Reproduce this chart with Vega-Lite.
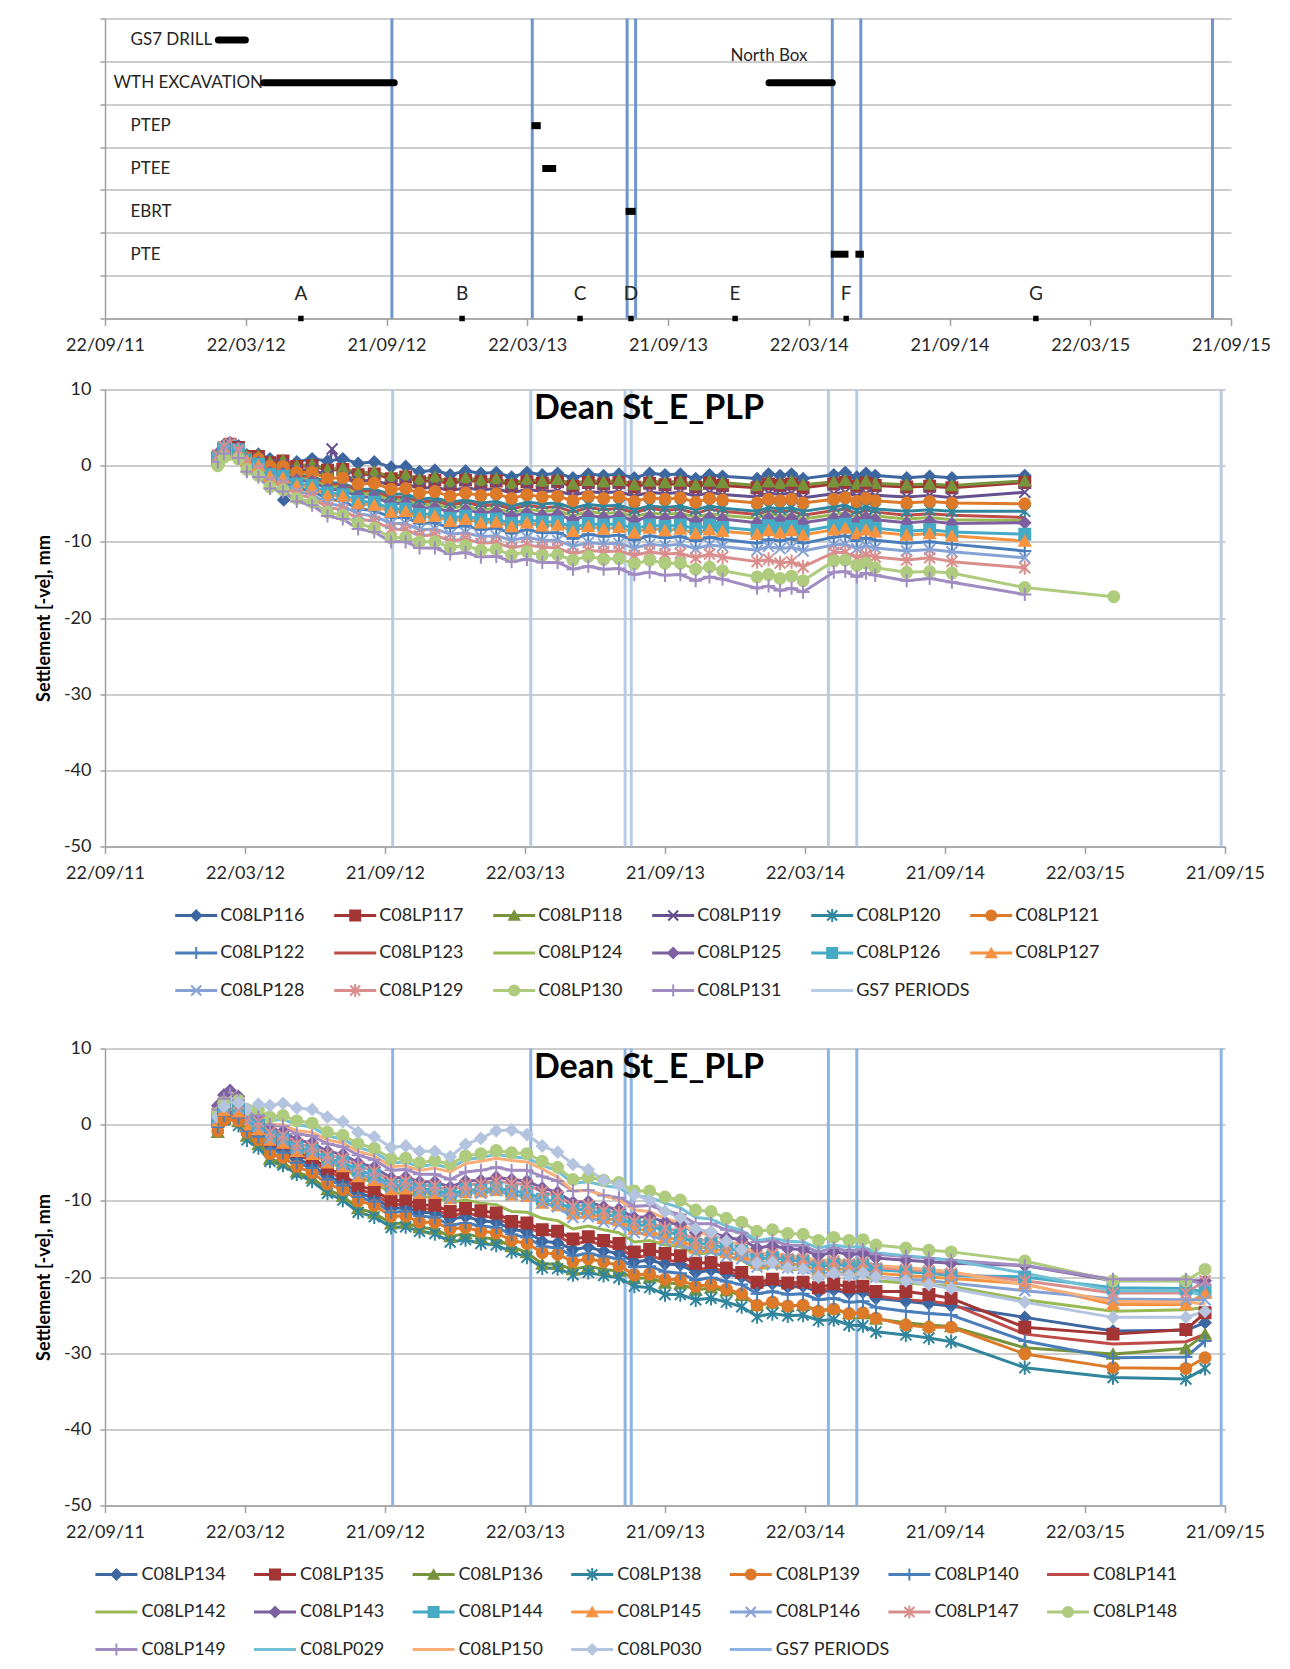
{
"$schema": "https://vega.github.io/schema/vega-lite/v6.json",
"padding": {"left": 35, "top": 9.5, "right": 10, "bottom": 5},
"background": "white",
"config": {
  "font": "Lato",
  "view": {"stroke": null},
  "axis": {"labelFont": "Lato", "labelFontSize": 18, "labelColor": "#262626", "domainColor": "#A0A0A0", "domainWidth": 1.5, "tickColor": "#A0A0A0", "tickWidth": 1.5, "gridColor": "#BDBDBD", "gridWidth": 1.5, "titleFont": "Lato"},
  "title": {"font": "Lato"}
},
"spacing": 71,
"bounds": "flush",
"resolve": {"scale": {"color": "independent", "fill": "independent", "stroke": "independent", "shape": "independent", "x": "independent", "y": "independent"}},
"datasets": {
  "tasks": [
    {"task": "GS7 DRILL", "start": 147, "end": 182},
    {"task": "WTH EXCAVATION", "start": 206, "end": 375},
    {"task": "WTH EXCAVATION", "start": 861, "end": 943, "note": "North Box"},
    {"task": "PTEP", "start": 553, "end": 565},
    {"task": "PTEE", "start": 567, "end": 585},
    {"task": "EBRT", "start": 675, "end": 688},
    {"task": "PTE", "start": 941, "end": 964},
    {"task": "PTE", "start": 973, "end": 984}
  ],
  "milestones": [
    {"name": "A", "start": 254, "task": "MILESTONES"},
    {"name": "B", "start": 463, "task": "MILESTONES"},
    {"name": "C", "start": 616, "task": "MILESTONES"},
    {"name": "D", "start": 682, "task": "MILESTONES"},
    {"name": "E", "start": 817, "task": "MILESTONES"},
    {"name": "F", "start": 961, "task": "MILESTONES"},
    {"name": "G", "start": 1207, "task": "MILESTONES"}
  ],
  "gs7Top": [{"start": 372}, {"start": 554}, {"start": 677}, {"start": 688}, {"start": 943}, {"start": 980}, {"start": 1436}],
  "gs7": [{"day": 375}, {"day": 555}, {"day": 678}, {"day": 686}, {"day": 943}, {"day": 980}, {"day": 1455}],
  "legendMid": [{"id":"C08LP116"},{"id":"C08LP117"},{"id":"C08LP118"},{"id":"C08LP119"},{"id":"C08LP120"},{"id":"C08LP121"},{"id":"C08LP122"},{"id":"C08LP123"},{"id":"C08LP124"},{"id":"C08LP125"},{"id":"C08LP126"},{"id":"C08LP127"},{"id":"C08LP128"},{"id":"C08LP129"},{"id":"C08LP130"},{"id":"C08LP131"},{"id":"GS7 PERIODS"}],
  "legendBot": [{"id":"C08LP134"},{"id":"C08LP135"},{"id":"C08LP136"},{"id":"C08LP138"},{"id":"C08LP139"},{"id":"C08LP140"},{"id":"C08LP141"},{"id":"C08LP142"},{"id":"C08LP143"},{"id":"C08LP144"},{"id":"C08LP145"},{"id":"C08LP146"},{"id":"C08LP147"},{"id":"C08LP148"},{"id":"C08LP149"},{"id":"C08LP029"},{"id":"C08LP150"},{"id":"C08LP030"},{"id":"GS7 PERIODS"}],
  "mid": [
{"id":"C08LP116","day":147,"mm":1.5},{"id":"C08LP116","day":163,"mm":3.0},{"id":"C08LP116","day":185,"mm":1.4},{"id":"C08LP116","day":215,"mm":0.9},{"id":"C08LP116","day":233,"mm":-4.5},{"id":"C08LP116","day":250,"mm":0.5},{"id":"C08LP116","day":290,"mm":0.6},{"id":"C08LP116","day":330,"mm":0.3},{"id":"C08LP116","day":373,"mm":-0.2},{"id":"C08LP116","day":410,"mm":-0.8},{"id":"C08LP116","day":450,"mm":-1.2},{"id":"C08LP116","day":490,"mm":-1.0},{"id":"C08LP116","day":530,"mm":-1.5},{"id":"C08LP116","day":570,"mm":-1.2},{"id":"C08LP116","day":610,"mm":-1.6},{"id":"C08LP116","day":650,"mm":-1.3},{"id":"C08LP116","day":690,"mm":-1.6},{"id":"C08LP116","day":730,"mm":-1.2},{"id":"C08LP116","day":770,"mm":-1.7},{"id":"C08LP116","day":805,"mm":-1.4},{"id":"C08LP116","day":850,"mm":-1.7},{"id":"C08LP116","day":880,"mm":-1.3},{"id":"C08LP116","day":910,"mm":-1.7},{"id":"C08LP116","day":950,"mm":-1.2},{"id":"C08LP116","day":980,"mm":-1.5},{"id":"C08LP116","day":1004,"mm":-1.3},{"id":"C08LP116","day":1045,"mm":-1.6},{"id":"C08LP116","day":1075,"mm":-1.4},{"id":"C08LP116","day":1104,"mm":-1.6},{"id":"C08LP116","day":1199,"mm":-1.3},
{"id":"C08LP117","day":147,"mm":1.0},{"id":"C08LP117","day":163,"mm":2.8},{"id":"C08LP117","day":185,"mm":1.2},{"id":"C08LP117","day":215,"mm":0.4},{"id":"C08LP117","day":250,"mm":-0.1},{"id":"C08LP117","day":290,"mm":-0.6},{"id":"C08LP117","day":330,"mm":-1.2},{"id":"C08LP117","day":373,"mm":-1.7},{"id":"C08LP117","day":410,"mm":-2.1},{"id":"C08LP117","day":450,"mm":-2.4},{"id":"C08LP117","day":490,"mm":-2.1},{"id":"C08LP117","day":530,"mm":-2.6},{"id":"C08LP117","day":570,"mm":-2.3},{"id":"C08LP117","day":610,"mm":-2.7},{"id":"C08LP117","day":650,"mm":-2.4},{"id":"C08LP117","day":690,"mm":-2.8},{"id":"C08LP117","day":730,"mm":-2.5},{"id":"C08LP117","day":770,"mm":-2.8},{"id":"C08LP117","day":805,"mm":-2.6},{"id":"C08LP117","day":850,"mm":-2.9},{"id":"C08LP117","day":880,"mm":-2.6},{"id":"C08LP117","day":910,"mm":-2.9},{"id":"C08LP117","day":950,"mm":-2.4},{"id":"C08LP117","day":980,"mm":-2.7},{"id":"C08LP117","day":1004,"mm":-2.6},{"id":"C08LP117","day":1045,"mm":-2.8},{"id":"C08LP117","day":1075,"mm":-2.7},{"id":"C08LP117","day":1104,"mm":-2.9},{"id":"C08LP117","day":1199,"mm":-2.2},
{"id":"C08LP118","day":147,"mm":0.8},{"id":"C08LP118","day":163,"mm":2.5},{"id":"C08LP118","day":185,"mm":1.3},{"id":"C08LP118","day":215,"mm":0.5},{"id":"C08LP118","day":250,"mm":0.0},{"id":"C08LP118","day":290,"mm":-0.5},{"id":"C08LP118","day":330,"mm":-1.0},{"id":"C08LP118","day":373,"mm":-1.4},{"id":"C08LP118","day":410,"mm":-1.8},{"id":"C08LP118","day":450,"mm":-2.1},{"id":"C08LP118","day":490,"mm":-1.9},{"id":"C08LP118","day":530,"mm":-2.3},{"id":"C08LP118","day":570,"mm":-2.0},{"id":"C08LP118","day":610,"mm":-2.4},{"id":"C08LP118","day":650,"mm":-2.1},{"id":"C08LP118","day":690,"mm":-2.5},{"id":"C08LP118","day":730,"mm":-2.2},{"id":"C08LP118","day":770,"mm":-2.5},{"id":"C08LP118","day":805,"mm":-2.2},{"id":"C08LP118","day":850,"mm":-2.6},{"id":"C08LP118","day":880,"mm":-2.3},{"id":"C08LP118","day":910,"mm":-2.5},{"id":"C08LP118","day":950,"mm":-2.1},{"id":"C08LP118","day":980,"mm":-2.4},{"id":"C08LP118","day":1004,"mm":-2.3},{"id":"C08LP118","day":1045,"mm":-2.5},{"id":"C08LP118","day":1075,"mm":-2.4},{"id":"C08LP118","day":1104,"mm":-2.6},{"id":"C08LP118","day":1199,"mm":-2.0},
{"id":"C08LP119","day":147,"mm":1.2},{"id":"C08LP119","day":163,"mm":2.6},{"id":"C08LP119","day":185,"mm":1.1},{"id":"C08LP119","day":215,"mm":0.1},{"id":"C08LP119","day":250,"mm":-0.6},{"id":"C08LP119","day":290,"mm":-1.3},{"id":"C08LP119","day":296,"mm":2.2},{"id":"C08LP119","day":330,"mm":-2.0},{"id":"C08LP119","day":373,"mm":-2.6},{"id":"C08LP119","day":410,"mm":-3.0},{"id":"C08LP119","day":450,"mm":-3.3},{"id":"C08LP119","day":490,"mm":-3.2},{"id":"C08LP119","day":530,"mm":-3.6},{"id":"C08LP119","day":570,"mm":-3.4},{"id":"C08LP119","day":610,"mm":-3.9},{"id":"C08LP119","day":650,"mm":-3.6},{"id":"C08LP119","day":690,"mm":-4.0},{"id":"C08LP119","day":730,"mm":-3.7},{"id":"C08LP119","day":770,"mm":-4.0},{"id":"C08LP119","day":805,"mm":-3.8},{"id":"C08LP119","day":850,"mm":-4.1},{"id":"C08LP119","day":880,"mm":-3.8},{"id":"C08LP119","day":910,"mm":-4.2},{"id":"C08LP119","day":950,"mm":-3.7},{"id":"C08LP119","day":980,"mm":-4.0},{"id":"C08LP119","day":1004,"mm":-3.9},{"id":"C08LP119","day":1045,"mm":-4.1},{"id":"C08LP119","day":1075,"mm":-3.9},{"id":"C08LP119","day":1104,"mm":-4.2},{"id":"C08LP119","day":1199,"mm":-3.5},
{"id":"C08LP120","day":147,"mm":0.9},{"id":"C08LP120","day":163,"mm":2.4},{"id":"C08LP120","day":185,"mm":1.0},{"id":"C08LP120","day":215,"mm":-0.5},{"id":"C08LP120","day":250,"mm":-1.3},{"id":"C08LP120","day":290,"mm":-2.2},{"id":"C08LP120","day":330,"mm":-3.1},{"id":"C08LP120","day":373,"mm":-3.8},{"id":"C08LP120","day":410,"mm":-4.4},{"id":"C08LP120","day":450,"mm":-4.8},{"id":"C08LP120","day":490,"mm":-4.9},{"id":"C08LP120","day":530,"mm":-5.3},{"id":"C08LP120","day":570,"mm":-5.0},{"id":"C08LP120","day":610,"mm":-5.6},{"id":"C08LP120","day":650,"mm":-5.3},{"id":"C08LP120","day":690,"mm":-5.8},{"id":"C08LP120","day":730,"mm":-5.5},{"id":"C08LP120","day":770,"mm":-5.8},{"id":"C08LP120","day":805,"mm":-5.6},{"id":"C08LP120","day":850,"mm":-6.0},{"id":"C08LP120","day":880,"mm":-5.7},{"id":"C08LP120","day":910,"mm":-6.0},{"id":"C08LP120","day":950,"mm":-5.4},{"id":"C08LP120","day":980,"mm":-5.8},{"id":"C08LP120","day":1004,"mm":-5.7},{"id":"C08LP120","day":1045,"mm":-6.0},{"id":"C08LP120","day":1075,"mm":-5.8},{"id":"C08LP120","day":1104,"mm":-6.0},{"id":"C08LP120","day":1199,"mm":-6.0},
{"id":"C08LP121","day":147,"mm":0.5},{"id":"C08LP121","day":163,"mm":2.2},{"id":"C08LP121","day":185,"mm":1.0},{"id":"C08LP121","day":215,"mm":-0.1},{"id":"C08LP121","day":250,"mm":-0.9},{"id":"C08LP121","day":290,"mm":-1.7},{"id":"C08LP121","day":330,"mm":-2.4},{"id":"C08LP121","day":373,"mm":-3.1},{"id":"C08LP121","day":410,"mm":-3.6},{"id":"C08LP121","day":450,"mm":-4.0},{"id":"C08LP121","day":490,"mm":-3.9},{"id":"C08LP121","day":530,"mm":-4.3},{"id":"C08LP121","day":570,"mm":-4.1},{"id":"C08LP121","day":610,"mm":-4.6},{"id":"C08LP121","day":650,"mm":-4.3},{"id":"C08LP121","day":690,"mm":-4.7},{"id":"C08LP121","day":730,"mm":-4.4},{"id":"C08LP121","day":770,"mm":-4.8},{"id":"C08LP121","day":805,"mm":-4.5},{"id":"C08LP121","day":850,"mm":-4.9},{"id":"C08LP121","day":880,"mm":-4.6},{"id":"C08LP121","day":910,"mm":-4.9},{"id":"C08LP121","day":950,"mm":-4.4},{"id":"C08LP121","day":980,"mm":-4.7},{"id":"C08LP121","day":1004,"mm":-4.6},{"id":"C08LP121","day":1045,"mm":-4.9},{"id":"C08LP121","day":1075,"mm":-4.7},{"id":"C08LP121","day":1104,"mm":-4.9},{"id":"C08LP121","day":1199,"mm":-5.0},
{"id":"C08LP122","day":147,"mm":1.0},{"id":"C08LP122","day":163,"mm":2.5},{"id":"C08LP122","day":185,"mm":0.5},{"id":"C08LP122","day":215,"mm":-1.7},{"id":"C08LP122","day":250,"mm":-3.0},{"id":"C08LP122","day":290,"mm":-4.4},{"id":"C08LP122","day":330,"mm":-5.7},{"id":"C08LP122","day":373,"mm":-6.8},{"id":"C08LP122","day":410,"mm":-7.6},{"id":"C08LP122","day":450,"mm":-8.2},{"id":"C08LP122","day":490,"mm":-8.4},{"id":"C08LP122","day":530,"mm":-8.9},{"id":"C08LP122","day":570,"mm":-8.8},{"id":"C08LP122","day":610,"mm":-9.6},{"id":"C08LP122","day":650,"mm":-9.3},{"id":"C08LP122","day":690,"mm":-9.8},{"id":"C08LP122","day":730,"mm":-9.5},{"id":"C08LP122","day":770,"mm":-9.9},{"id":"C08LP122","day":805,"mm":-9.7},{"id":"C08LP122","day":850,"mm":-10.2},{"id":"C08LP122","day":880,"mm":-9.9},{"id":"C08LP122","day":910,"mm":-10.2},{"id":"C08LP122","day":950,"mm":-9.4},{"id":"C08LP122","day":980,"mm":-9.9},{"id":"C08LP122","day":1004,"mm":-9.8},{"id":"C08LP122","day":1045,"mm":-10.2},{"id":"C08LP122","day":1075,"mm":-10.0},{"id":"C08LP122","day":1104,"mm":-10.3},{"id":"C08LP122","day":1199,"mm":-11.2},
{"id":"C08LP123","day":147,"mm":1.3},{"id":"C08LP123","day":163,"mm":2.7},{"id":"C08LP123","day":185,"mm":0.9},{"id":"C08LP123","day":215,"mm":-0.6},{"id":"C08LP123","day":250,"mm":-1.5},{"id":"C08LP123","day":290,"mm":-2.5},{"id":"C08LP123","day":330,"mm":-3.4},{"id":"C08LP123","day":373,"mm":-4.2},{"id":"C08LP123","day":410,"mm":-4.8},{"id":"C08LP123","day":450,"mm":-5.2},{"id":"C08LP123","day":490,"mm":-5.3},{"id":"C08LP123","day":530,"mm":-5.7},{"id":"C08LP123","day":570,"mm":-5.5},{"id":"C08LP123","day":610,"mm":-6.1},{"id":"C08LP123","day":650,"mm":-5.8},{"id":"C08LP123","day":690,"mm":-6.2},{"id":"C08LP123","day":730,"mm":-5.9},{"id":"C08LP123","day":770,"mm":-6.3},{"id":"C08LP123","day":805,"mm":-6.0},{"id":"C08LP123","day":850,"mm":-6.4},{"id":"C08LP123","day":880,"mm":-6.1},{"id":"C08LP123","day":910,"mm":-6.5},{"id":"C08LP123","day":950,"mm":-5.9},{"id":"C08LP123","day":980,"mm":-6.3},{"id":"C08LP123","day":1004,"mm":-6.1},{"id":"C08LP123","day":1045,"mm":-6.5},{"id":"C08LP123","day":1075,"mm":-6.3},{"id":"C08LP123","day":1104,"mm":-6.5},{"id":"C08LP123","day":1199,"mm":-6.8},
{"id":"C08LP124","day":147,"mm":0.7},{"id":"C08LP124","day":163,"mm":2.3},{"id":"C08LP124","day":185,"mm":0.8},{"id":"C08LP124","day":215,"mm":-0.8},{"id":"C08LP124","day":250,"mm":-1.7},{"id":"C08LP124","day":290,"mm":-2.8},{"id":"C08LP124","day":330,"mm":-3.7},{"id":"C08LP124","day":373,"mm":-4.6},{"id":"C08LP124","day":410,"mm":-5.2},{"id":"C08LP124","day":450,"mm":-5.6},{"id":"C08LP124","day":490,"mm":-5.8},{"id":"C08LP124","day":530,"mm":-6.2},{"id":"C08LP124","day":570,"mm":-6.0},{"id":"C08LP124","day":610,"mm":-6.6},{"id":"C08LP124","day":650,"mm":-6.3},{"id":"C08LP124","day":690,"mm":-6.7},{"id":"C08LP124","day":730,"mm":-6.4},{"id":"C08LP124","day":770,"mm":-6.8},{"id":"C08LP124","day":805,"mm":-6.5},{"id":"C08LP124","day":850,"mm":-6.9},{"id":"C08LP124","day":880,"mm":-6.6},{"id":"C08LP124","day":910,"mm":-7.0},{"id":"C08LP124","day":950,"mm":-6.4},{"id":"C08LP124","day":980,"mm":-6.8},{"id":"C08LP124","day":1004,"mm":-6.6},{"id":"C08LP124","day":1045,"mm":-7.0},{"id":"C08LP124","day":1075,"mm":-6.8},{"id":"C08LP124","day":1104,"mm":-7.1},{"id":"C08LP124","day":1199,"mm":-7.2},
{"id":"C08LP125","day":147,"mm":1.6},{"id":"C08LP125","day":163,"mm":3.0},{"id":"C08LP125","day":185,"mm":0.8},{"id":"C08LP125","day":215,"mm":-0.9},{"id":"C08LP125","day":250,"mm":-1.9},{"id":"C08LP125","day":290,"mm":-3.1},{"id":"C08LP125","day":330,"mm":-4.1},{"id":"C08LP125","day":373,"mm":-5.0},{"id":"C08LP125","day":410,"mm":-5.6},{"id":"C08LP125","day":450,"mm":-6.1},{"id":"C08LP125","day":490,"mm":-6.2},{"id":"C08LP125","day":530,"mm":-6.6},{"id":"C08LP125","day":570,"mm":-6.5},{"id":"C08LP125","day":610,"mm":-7.1},{"id":"C08LP125","day":650,"mm":-6.8},{"id":"C08LP125","day":690,"mm":-7.2},{"id":"C08LP125","day":730,"mm":-6.9},{"id":"C08LP125","day":770,"mm":-7.3},{"id":"C08LP125","day":805,"mm":-7.0},{"id":"C08LP125","day":850,"mm":-7.5},{"id":"C08LP125","day":880,"mm":-7.1},{"id":"C08LP125","day":910,"mm":-7.5},{"id":"C08LP125","day":950,"mm":-6.9},{"id":"C08LP125","day":980,"mm":-7.3},{"id":"C08LP125","day":1004,"mm":-7.1},{"id":"C08LP125","day":1045,"mm":-7.5},{"id":"C08LP125","day":1075,"mm":-7.3},{"id":"C08LP125","day":1104,"mm":-7.6},{"id":"C08LP125","day":1199,"mm":-7.5},
{"id":"C08LP126","day":147,"mm":1.1},{"id":"C08LP126","day":163,"mm":2.6},{"id":"C08LP126","day":185,"mm":0.7},{"id":"C08LP126","day":215,"mm":-1.2},{"id":"C08LP126","day":250,"mm":-2.4},{"id":"C08LP126","day":290,"mm":-3.6},{"id":"C08LP126","day":330,"mm":-4.7},{"id":"C08LP126","day":373,"mm":-5.7},{"id":"C08LP126","day":410,"mm":-6.4},{"id":"C08LP126","day":450,"mm":-6.9},{"id":"C08LP126","day":490,"mm":-7.1},{"id":"C08LP126","day":530,"mm":-7.6},{"id":"C08LP126","day":570,"mm":-7.4},{"id":"C08LP126","day":610,"mm":-8.1},{"id":"C08LP126","day":650,"mm":-7.8},{"id":"C08LP126","day":690,"mm":-8.3},{"id":"C08LP126","day":730,"mm":-8.0},{"id":"C08LP126","day":770,"mm":-8.3},{"id":"C08LP126","day":805,"mm":-8.1},{"id":"C08LP126","day":850,"mm":-8.5},{"id":"C08LP126","day":880,"mm":-8.2},{"id":"C08LP126","day":910,"mm":-8.6},{"id":"C08LP126","day":950,"mm":-7.9},{"id":"C08LP126","day":980,"mm":-8.3},{"id":"C08LP126","day":1004,"mm":-8.2},{"id":"C08LP126","day":1045,"mm":-8.6},{"id":"C08LP126","day":1075,"mm":-8.4},{"id":"C08LP126","day":1104,"mm":-8.7},{"id":"C08LP126","day":1199,"mm":-9.0},
{"id":"C08LP127","day":147,"mm":0.6},{"id":"C08LP127","day":163,"mm":2.2},{"id":"C08LP127","day":185,"mm":0.6},{"id":"C08LP127","day":215,"mm":-1.4},{"id":"C08LP127","day":250,"mm":-2.6},{"id":"C08LP127","day":290,"mm":-3.9},{"id":"C08LP127","day":330,"mm":-5.0},{"id":"C08LP127","day":373,"mm":-6.1},{"id":"C08LP127","day":410,"mm":-6.8},{"id":"C08LP127","day":450,"mm":-7.3},{"id":"C08LP127","day":490,"mm":-7.5},{"id":"C08LP127","day":530,"mm":-8.0},{"id":"C08LP127","day":570,"mm":-7.9},{"id":"C08LP127","day":610,"mm":-8.6},{"id":"C08LP127","day":650,"mm":-8.3},{"id":"C08LP127","day":690,"mm":-8.8},{"id":"C08LP127","day":730,"mm":-8.5},{"id":"C08LP127","day":770,"mm":-8.9},{"id":"C08LP127","day":805,"mm":-8.6},{"id":"C08LP127","day":850,"mm":-9.0},{"id":"C08LP127","day":880,"mm":-8.8},{"id":"C08LP127","day":910,"mm":-9.1},{"id":"C08LP127","day":950,"mm":-8.4},{"id":"C08LP127","day":980,"mm":-8.9},{"id":"C08LP127","day":1004,"mm":-8.7},{"id":"C08LP127","day":1045,"mm":-9.1},{"id":"C08LP127","day":1075,"mm":-8.9},{"id":"C08LP127","day":1104,"mm":-9.2},{"id":"C08LP127","day":1199,"mm":-9.9},
{"id":"C08LP128","day":147,"mm":0.9},{"id":"C08LP128","day":163,"mm":2.4},{"id":"C08LP128","day":185,"mm":0.4},{"id":"C08LP128","day":215,"mm":-2.0},{"id":"C08LP128","day":250,"mm":-3.4},{"id":"C08LP128","day":290,"mm":-5.0},{"id":"C08LP128","day":330,"mm":-6.3},{"id":"C08LP128","day":373,"mm":-7.6},{"id":"C08LP128","day":410,"mm":-8.4},{"id":"C08LP128","day":450,"mm":-9.0},{"id":"C08LP128","day":490,"mm":-9.3},{"id":"C08LP128","day":530,"mm":-9.8},{"id":"C08LP128","day":570,"mm":-9.8},{"id":"C08LP128","day":610,"mm":-10.6},{"id":"C08LP128","day":650,"mm":-10.3},{"id":"C08LP128","day":690,"mm":-10.8},{"id":"C08LP128","day":730,"mm":-10.5},{"id":"C08LP128","day":770,"mm":-10.9},{"id":"C08LP128","day":805,"mm":-10.6},{"id":"C08LP128","day":850,"mm":-11.1},{"id":"C08LP128","day":880,"mm":-10.9},{"id":"C08LP128","day":910,"mm":-11.2},{"id":"C08LP128","day":950,"mm":-10.4},{"id":"C08LP128","day":980,"mm":-10.9},{"id":"C08LP128","day":1004,"mm":-10.8},{"id":"C08LP128","day":1045,"mm":-11.2},{"id":"C08LP128","day":1075,"mm":-11.0},{"id":"C08LP128","day":1104,"mm":-11.3},{"id":"C08LP128","day":1199,"mm":-12.1},
{"id":"C08LP129","day":147,"mm":1.4},{"id":"C08LP129","day":163,"mm":2.9},{"id":"C08LP129","day":185,"mm":0.4},{"id":"C08LP129","day":215,"mm":-2.3},{"id":"C08LP129","day":250,"mm":-3.8},{"id":"C08LP129","day":290,"mm":-5.5},{"id":"C08LP129","day":330,"mm":-7.0},{"id":"C08LP129","day":373,"mm":-8.3},{"id":"C08LP129","day":410,"mm":-9.2},{"id":"C08LP129","day":450,"mm":-9.9},{"id":"C08LP129","day":490,"mm":-10.2},{"id":"C08LP129","day":530,"mm":-10.8},{"id":"C08LP129","day":570,"mm":-10.7},{"id":"C08LP129","day":610,"mm":-11.6},{"id":"C08LP129","day":650,"mm":-11.3},{"id":"C08LP129","day":690,"mm":-11.8},{"id":"C08LP129","day":730,"mm":-11.6},{"id":"C08LP129","day":770,"mm":-12.1},{"id":"C08LP129","day":805,"mm":-12.0},{"id":"C08LP129","day":850,"mm":-12.6},{"id":"C08LP129","day":880,"mm":-12.8},{"id":"C08LP129","day":910,"mm":-13.3},{"id":"C08LP129","day":950,"mm":-11.4},{"id":"C08LP129","day":980,"mm":-12.1},{"id":"C08LP129","day":1004,"mm":-12.0},{"id":"C08LP129","day":1045,"mm":-12.4},{"id":"C08LP129","day":1075,"mm":-12.1},{"id":"C08LP129","day":1104,"mm":-12.6},{"id":"C08LP129","day":1199,"mm":-13.4},
{"id":"C08LP130","day":147,"mm":0.0},{"id":"C08LP130","day":163,"mm":1.5},{"id":"C08LP130","day":185,"mm":-0.5},{"id":"C08LP130","day":215,"mm":-2.8},{"id":"C08LP130","day":250,"mm":-4.3},{"id":"C08LP130","day":290,"mm":-6.1},{"id":"C08LP130","day":330,"mm":-7.6},{"id":"C08LP130","day":373,"mm":-9.5},{"id":"C08LP130","day":410,"mm":-10.0},{"id":"C08LP130","day":450,"mm":-10.7},{"id":"C08LP130","day":490,"mm":-11.1},{"id":"C08LP130","day":530,"mm":-11.7},{"id":"C08LP130","day":570,"mm":-11.8},{"id":"C08LP130","day":610,"mm":-12.4},{"id":"C08LP130","day":650,"mm":-12.3},{"id":"C08LP130","day":690,"mm":-12.9},{"id":"C08LP130","day":730,"mm":-12.8},{"id":"C08LP130","day":770,"mm":-13.6},{"id":"C08LP130","day":805,"mm":-13.8},{"id":"C08LP130","day":850,"mm":-14.6},{"id":"C08LP130","day":880,"mm":-14.8},{"id":"C08LP130","day":910,"mm":-15.1},{"id":"C08LP130","day":950,"mm":-12.5},{"id":"C08LP130","day":980,"mm":-13.1},{"id":"C08LP130","day":1004,"mm":-13.4},{"id":"C08LP130","day":1045,"mm":-14.0},{"id":"C08LP130","day":1075,"mm":-13.9},{"id":"C08LP130","day":1104,"mm":-14.1},{"id":"C08LP130","day":1199,"mm":-16.0},{"id":"C08LP130","day":1315,"mm":-17.2},
{"id":"C08LP131","day":147,"mm":0.5},{"id":"C08LP131","day":163,"mm":2.0},{"id":"C08LP131","day":185,"mm":-0.8},{"id":"C08LP131","day":215,"mm":-3.0},{"id":"C08LP131","day":250,"mm":-4.7},{"id":"C08LP131","day":290,"mm":-6.6},{"id":"C08LP131","day":330,"mm":-8.3},{"id":"C08LP131","day":373,"mm":-10.0},{"id":"C08LP131","day":410,"mm":-10.8},{"id":"C08LP131","day":450,"mm":-11.6},{"id":"C08LP131","day":490,"mm":-12.0},{"id":"C08LP131","day":530,"mm":-12.6},{"id":"C08LP131","day":570,"mm":-12.7},{"id":"C08LP131","day":610,"mm":-13.6},{"id":"C08LP131","day":650,"mm":-13.6},{"id":"C08LP131","day":690,"mm":-14.3},{"id":"C08LP131","day":730,"mm":-14.4},{"id":"C08LP131","day":770,"mm":-15.1},{"id":"C08LP131","day":805,"mm":-14.9},{"id":"C08LP131","day":850,"mm":-16.1},{"id":"C08LP131","day":880,"mm":-16.4},{"id":"C08LP131","day":910,"mm":-16.6},{"id":"C08LP131","day":950,"mm":-14.0},{"id":"C08LP131","day":980,"mm":-14.6},{"id":"C08LP131","day":1004,"mm":-14.4},{"id":"C08LP131","day":1045,"mm":-15.1},{"id":"C08LP131","day":1075,"mm":-14.8},{"id":"C08LP131","day":1104,"mm":-15.3},{"id":"C08LP131","day":1199,"mm":-16.9},
{"id":"C08LP116","day":155,"mm":2.7},{"id":"C08LP116","day":174,"mm":2.6},{"id":"C08LP116","day":200,"mm":1.5},{"id":"C08LP116","day":270,"mm":0.9},{"id":"C08LP116","day":310,"mm":0.9},{"id":"C08LP116","day":351,"mm":0.5},{"id":"C08LP116","day":392,"mm":-0.1},{"id":"C08LP116","day":430,"mm":-0.6},{"id":"C08LP116","day":470,"mm":-0.7},{"id":"C08LP116","day":510,"mm":-0.9},{"id":"C08LP116","day":550,"mm":-0.9},{"id":"C08LP116","day":590,"mm":-1.0},{"id":"C08LP116","day":630,"mm":-1.1},{"id":"C08LP116","day":670,"mm":-1.1},{"id":"C08LP116","day":710,"mm":-1.0},{"id":"C08LP116","day":750,"mm":-1.1},{"id":"C08LP116","day":788,"mm":-1.2},{"id":"C08LP116","day":865,"mm":-1.1},{"id":"C08LP116","day":895,"mm":-1.1},{"id":"C08LP116","day":965,"mm":-0.9},{"id":"C08LP116","day":992,"mm":-1.0},
{"id":"C08LP117","day":155,"mm":2.3},{"id":"C08LP117","day":174,"mm":2.4},{"id":"C08LP117","day":200,"mm":1.2},{"id":"C08LP117","day":232,"mm":0.6},{"id":"C08LP117","day":270,"mm":0.0},{"id":"C08LP117","day":310,"mm":-0.5},{"id":"C08LP117","day":351,"mm":-1.1},{"id":"C08LP117","day":392,"mm":-1.5},{"id":"C08LP117","day":430,"mm":-1.9},{"id":"C08LP117","day":470,"mm":-1.9},{"id":"C08LP117","day":510,"mm":-2.0},{"id":"C08LP117","day":550,"mm":-2.1},{"id":"C08LP117","day":590,"mm":-2.1},{"id":"C08LP117","day":630,"mm":-2.2},{"id":"C08LP117","day":670,"mm":-2.2},{"id":"C08LP117","day":710,"mm":-2.3},{"id":"C08LP117","day":750,"mm":-2.3},{"id":"C08LP117","day":788,"mm":-2.3},{"id":"C08LP117","day":865,"mm":-2.4},{"id":"C08LP117","day":895,"mm":-2.4},{"id":"C08LP117","day":965,"mm":-2.2},{"id":"C08LP117","day":992,"mm":-2.3},
{"id":"C08LP118","day":155,"mm":2.1},{"id":"C08LP118","day":174,"mm":2.3},{"id":"C08LP118","day":200,"mm":1.3},{"id":"C08LP118","day":232,"mm":0.7},{"id":"C08LP118","day":270,"mm":0.2},{"id":"C08LP118","day":310,"mm":-0.3},{"id":"C08LP118","day":351,"mm":-0.8},{"id":"C08LP118","day":392,"mm":-1.2},{"id":"C08LP118","day":430,"mm":-1.5},{"id":"C08LP118","day":470,"mm":-1.6},{"id":"C08LP118","day":510,"mm":-1.7},{"id":"C08LP118","day":550,"mm":-1.8},{"id":"C08LP118","day":590,"mm":-1.8},{"id":"C08LP118","day":630,"mm":-1.9},{"id":"C08LP118","day":670,"mm":-1.9},{"id":"C08LP118","day":710,"mm":-2.0},{"id":"C08LP118","day":750,"mm":-2.0},{"id":"C08LP118","day":788,"mm":-2.0},{"id":"C08LP118","day":865,"mm":-2.1},{"id":"C08LP118","day":895,"mm":-2.0},{"id":"C08LP118","day":965,"mm":-1.9},{"id":"C08LP118","day":992,"mm":-2.0},
{"id":"C08LP119","day":155,"mm":2.3},{"id":"C08LP119","day":174,"mm":2.3},{"id":"C08LP119","day":200,"mm":1.0},{"id":"C08LP119","day":232,"mm":0.2},{"id":"C08LP119","day":270,"mm":-0.5},{"id":"C08LP119","day":315,"mm":-1.4},{"id":"C08LP119","day":351,"mm":-1.9},{"id":"C08LP119","day":392,"mm":-2.4},{"id":"C08LP119","day":430,"mm":-2.8},{"id":"C08LP119","day":470,"mm":-2.9},{"id":"C08LP119","day":510,"mm":-3.0},{"id":"C08LP119","day":550,"mm":-3.1},{"id":"C08LP119","day":590,"mm":-3.3},{"id":"C08LP119","day":630,"mm":-3.4},{"id":"C08LP119","day":670,"mm":-3.4},{"id":"C08LP119","day":710,"mm":-3.5},{"id":"C08LP119","day":750,"mm":-3.5},{"id":"C08LP119","day":788,"mm":-3.5},{"id":"C08LP119","day":865,"mm":-3.6},{"id":"C08LP119","day":895,"mm":-3.6},{"id":"C08LP119","day":965,"mm":-3.5},{"id":"C08LP119","day":992,"mm":-3.6},
{"id":"C08LP120","day":155,"mm":2.1},{"id":"C08LP120","day":174,"mm":2.1},{"id":"C08LP120","day":200,"mm":0.7},{"id":"C08LP120","day":232,"mm":-0.5},{"id":"C08LP120","day":270,"mm":-1.4},{"id":"C08LP120","day":310,"mm":-2.3},{"id":"C08LP120","day":351,"mm":-3.1},{"id":"C08LP120","day":392,"mm":-3.7},{"id":"C08LP120","day":430,"mm":-4.2},{"id":"C08LP120","day":470,"mm":-4.5},{"id":"C08LP120","day":510,"mm":-4.7},{"id":"C08LP120","day":550,"mm":-4.8},{"id":"C08LP120","day":590,"mm":-4.9},{"id":"C08LP120","day":630,"mm":-5.1},{"id":"C08LP120","day":670,"mm":-5.2},{"id":"C08LP120","day":710,"mm":-5.3},{"id":"C08LP120","day":750,"mm":-5.3},{"id":"C08LP120","day":788,"mm":-5.3},{"id":"C08LP120","day":865,"mm":-5.5},{"id":"C08LP120","day":895,"mm":-5.5},{"id":"C08LP120","day":965,"mm":-5.2},{"id":"C08LP120","day":992,"mm":-5.4},
{"id":"C08LP121","day":155,"mm":1.8},{"id":"C08LP121","day":174,"mm":2.0},{"id":"C08LP121","day":200,"mm":0.9},{"id":"C08LP121","day":232,"mm":-0.1},{"id":"C08LP121","day":270,"mm":-0.9},{"id":"C08LP121","day":310,"mm":-1.6},{"id":"C08LP121","day":351,"mm":-2.3},{"id":"C08LP121","day":392,"mm":-3.0},{"id":"C08LP121","day":430,"mm":-3.4},{"id":"C08LP121","day":470,"mm":-3.6},{"id":"C08LP121","day":510,"mm":-3.7},{"id":"C08LP121","day":550,"mm":-3.8},{"id":"C08LP121","day":590,"mm":-4.0},{"id":"C08LP121","day":630,"mm":-4.0},{"id":"C08LP121","day":670,"mm":-4.1},{"id":"C08LP121","day":710,"mm":-4.2},{"id":"C08LP121","day":750,"mm":-4.2},{"id":"C08LP121","day":788,"mm":-4.3},{"id":"C08LP121","day":865,"mm":-4.4},{"id":"C08LP121","day":895,"mm":-4.4},{"id":"C08LP121","day":965,"mm":-4.2},{"id":"C08LP121","day":992,"mm":-4.3},
{"id":"C08LP122","day":155,"mm":2.1},{"id":"C08LP122","day":174,"mm":1.9},{"id":"C08LP122","day":200,"mm":-0.2},{"id":"C08LP122","day":232,"mm":-2.0},{"id":"C08LP122","day":270,"mm":-3.3},{"id":"C08LP122","day":310,"mm":-4.6},{"id":"C08LP122","day":351,"mm":-5.9},{"id":"C08LP122","day":392,"mm":-6.8},{"id":"C08LP122","day":430,"mm":-7.5},{"id":"C08LP122","day":470,"mm":-7.9},{"id":"C08LP122","day":510,"mm":-8.2},{"id":"C08LP122","day":550,"mm":-8.4},{"id":"C08LP122","day":590,"mm":-8.8},{"id":"C08LP122","day":630,"mm":-9.0},{"id":"C08LP122","day":670,"mm":-9.1},{"id":"C08LP122","day":710,"mm":-9.2},{"id":"C08LP122","day":750,"mm":-9.3},{"id":"C08LP122","day":788,"mm":-9.4},{"id":"C08LP122","day":865,"mm":-9.7},{"id":"C08LP122","day":895,"mm":-9.6},{"id":"C08LP122","day":965,"mm":-9.2},{"id":"C08LP122","day":992,"mm":-9.5},
{"id":"C08LP123","day":155,"mm":2.4},{"id":"C08LP123","day":174,"mm":2.2},{"id":"C08LP123","day":200,"mm":0.6},{"id":"C08LP123","day":232,"mm":-0.7},{"id":"C08LP123","day":270,"mm":-1.6},{"id":"C08LP123","day":310,"mm":-2.5},{"id":"C08LP123","day":351,"mm":-3.4},{"id":"C08LP123","day":392,"mm":-4.1},{"id":"C08LP123","day":430,"mm":-4.6},{"id":"C08LP123","day":470,"mm":-4.8},{"id":"C08LP123","day":510,"mm":-5.1},{"id":"C08LP123","day":550,"mm":-5.2},{"id":"C08LP123","day":590,"mm":-5.4},{"id":"C08LP123","day":630,"mm":-5.5},{"id":"C08LP123","day":670,"mm":-5.6},{"id":"C08LP123","day":710,"mm":-5.6},{"id":"C08LP123","day":750,"mm":-5.7},{"id":"C08LP123","day":788,"mm":-5.7},{"id":"C08LP123","day":865,"mm":-5.9},{"id":"C08LP123","day":895,"mm":-5.9},{"id":"C08LP123","day":965,"mm":-5.7},{"id":"C08LP123","day":992,"mm":-5.8},
{"id":"C08LP124","day":155,"mm":1.9},{"id":"C08LP124","day":174,"mm":2.0},{"id":"C08LP124","day":200,"mm":0.4},{"id":"C08LP124","day":232,"mm":-0.9},{"id":"C08LP124","day":270,"mm":-1.8},{"id":"C08LP124","day":310,"mm":-2.8},{"id":"C08LP124","day":351,"mm":-3.7},{"id":"C08LP124","day":392,"mm":-4.5},{"id":"C08LP124","day":430,"mm":-5.0},{"id":"C08LP124","day":470,"mm":-5.3},{"id":"C08LP124","day":510,"mm":-5.6},{"id":"C08LP124","day":550,"mm":-5.7},{"id":"C08LP124","day":590,"mm":-5.9},{"id":"C08LP124","day":630,"mm":-6.0},{"id":"C08LP124","day":670,"mm":-6.1},{"id":"C08LP124","day":710,"mm":-6.2},{"id":"C08LP124","day":750,"mm":-6.2},{"id":"C08LP124","day":788,"mm":-6.3},{"id":"C08LP124","day":865,"mm":-6.3},{"id":"C08LP124","day":895,"mm":-6.4},{"id":"C08LP124","day":965,"mm":-6.2},{"id":"C08LP124","day":992,"mm":-6.3},
{"id":"C08LP125","day":155,"mm":2.7},{"id":"C08LP125","day":174,"mm":2.3},{"id":"C08LP125","day":200,"mm":0.4},{"id":"C08LP125","day":232,"mm":-1.0},{"id":"C08LP125","day":270,"mm":-2.1},{"id":"C08LP125","day":310,"mm":-3.2},{"id":"C08LP125","day":351,"mm":-4.1},{"id":"C08LP125","day":392,"mm":-4.9},{"id":"C08LP125","day":430,"mm":-5.5},{"id":"C08LP125","day":470,"mm":-5.8},{"id":"C08LP125","day":510,"mm":-6.0},{"id":"C08LP125","day":550,"mm":-6.2},{"id":"C08LP125","day":590,"mm":-6.4},{"id":"C08LP125","day":630,"mm":-6.5},{"id":"C08LP125","day":670,"mm":-6.6},{"id":"C08LP125","day":710,"mm":-6.7},{"id":"C08LP125","day":750,"mm":-6.7},{"id":"C08LP125","day":788,"mm":-6.8},{"id":"C08LP125","day":865,"mm":-6.9},{"id":"C08LP125","day":895,"mm":-6.9},{"id":"C08LP125","day":965,"mm":-6.7},{"id":"C08LP125","day":992,"mm":-6.8},
{"id":"C08LP126","day":155,"mm":2.3},{"id":"C08LP126","day":174,"mm":2.1},{"id":"C08LP126","day":200,"mm":0.2},{"id":"C08LP126","day":232,"mm":-1.4},{"id":"C08LP126","day":270,"mm":-2.6},{"id":"C08LP126","day":310,"mm":-3.8},{"id":"C08LP126","day":351,"mm":-4.8},{"id":"C08LP126","day":392,"mm":-5.7},{"id":"C08LP126","day":430,"mm":-6.3},{"id":"C08LP126","day":470,"mm":-6.6},{"id":"C08LP126","day":510,"mm":-7.0},{"id":"C08LP126","day":550,"mm":-7.1},{"id":"C08LP126","day":590,"mm":-7.4},{"id":"C08LP126","day":630,"mm":-7.6},{"id":"C08LP126","day":670,"mm":-7.6},{"id":"C08LP126","day":710,"mm":-7.8},{"id":"C08LP126","day":750,"mm":-7.8},{"id":"C08LP126","day":788,"mm":-7.8},{"id":"C08LP126","day":865,"mm":-7.9},{"id":"C08LP126","day":895,"mm":-8.0},{"id":"C08LP126","day":965,"mm":-7.7},{"id":"C08LP126","day":992,"mm":-7.9},
{"id":"C08LP127","day":155,"mm":1.8},{"id":"C08LP127","day":174,"mm":1.8},{"id":"C08LP127","day":200,"mm":0.0},{"id":"C08LP127","day":232,"mm":-1.6},{"id":"C08LP127","day":270,"mm":-2.8},{"id":"C08LP127","day":310,"mm":-4.0},{"id":"C08LP127","day":351,"mm":-5.2},{"id":"C08LP127","day":392,"mm":-6.0},{"id":"C08LP127","day":430,"mm":-6.6},{"id":"C08LP127","day":470,"mm":-7.0},{"id":"C08LP127","day":510,"mm":-7.4},{"id":"C08LP127","day":550,"mm":-7.5},{"id":"C08LP127","day":590,"mm":-7.8},{"id":"C08LP127","day":630,"mm":-8.0},{"id":"C08LP127","day":670,"mm":-8.1},{"id":"C08LP127","day":710,"mm":-8.2},{"id":"C08LP127","day":750,"mm":-8.3},{"id":"C08LP127","day":788,"mm":-8.4},{"id":"C08LP127","day":865,"mm":-8.5},{"id":"C08LP127","day":895,"mm":-8.5},{"id":"C08LP127","day":965,"mm":-8.2},{"id":"C08LP127","day":992,"mm":-8.4},
{"id":"C08LP128","day":155,"mm":2.0},{"id":"C08LP128","day":174,"mm":1.8},{"id":"C08LP128","day":200,"mm":-0.4},{"id":"C08LP128","day":232,"mm":-2.3},{"id":"C08LP128","day":270,"mm":-3.8},{"id":"C08LP128","day":310,"mm":-5.3},{"id":"C08LP128","day":351,"mm":-6.6},{"id":"C08LP128","day":392,"mm":-7.6},{"id":"C08LP128","day":430,"mm":-8.3},{"id":"C08LP128","day":470,"mm":-8.8},{"id":"C08LP128","day":510,"mm":-9.2},{"id":"C08LP128","day":550,"mm":-9.4},{"id":"C08LP128","day":590,"mm":-9.8},{"id":"C08LP128","day":630,"mm":-10.1},{"id":"C08LP128","day":670,"mm":-10.2},{"id":"C08LP128","day":710,"mm":-10.3},{"id":"C08LP128","day":750,"mm":-10.3},{"id":"C08LP128","day":788,"mm":-10.4},{"id":"C08LP128","day":865,"mm":-10.6},{"id":"C08LP128","day":895,"mm":-10.7},{"id":"C08LP128","day":965,"mm":-10.3},{"id":"C08LP128","day":992,"mm":-10.5},
{"id":"C08LP129","day":155,"mm":2.5},{"id":"C08LP129","day":174,"mm":2.1},{"id":"C08LP129","day":200,"mm":-0.6},{"id":"C08LP129","day":232,"mm":-2.6},{"id":"C08LP129","day":270,"mm":-4.2},{"id":"C08LP129","day":310,"mm":-5.8},{"id":"C08LP129","day":351,"mm":-7.3},{"id":"C08LP129","day":392,"mm":-8.4},{"id":"C08LP129","day":430,"mm":-9.1},{"id":"C08LP129","day":470,"mm":-9.6},{"id":"C08LP129","day":510,"mm":-10.1},{"id":"C08LP129","day":550,"mm":-10.4},{"id":"C08LP129","day":590,"mm":-10.8},{"id":"C08LP129","day":630,"mm":-11.1},{"id":"C08LP129","day":670,"mm":-11.2},{"id":"C08LP129","day":710,"mm":-11.3},{"id":"C08LP129","day":750,"mm":-11.5},{"id":"C08LP129","day":788,"mm":-11.6},{"id":"C08LP129","day":865,"mm":-12.3},{"id":"C08LP129","day":895,"mm":-12.6},{"id":"C08LP129","day":965,"mm":-11.4},{"id":"C08LP129","day":992,"mm":-11.7},
{"id":"C08LP130","day":155,"mm":1.1},{"id":"C08LP130","day":174,"mm":0.9},{"id":"C08LP130","day":200,"mm":-1.3},{"id":"C08LP130","day":232,"mm":-3.2},{"id":"C08LP130","day":270,"mm":-4.8},{"id":"C08LP130","day":310,"mm":-6.5},{"id":"C08LP130","day":351,"mm":-8.2},{"id":"C08LP130","day":392,"mm":-9.4},{"id":"C08LP130","day":430,"mm":-10.0},{"id":"C08LP130","day":470,"mm":-10.5},{"id":"C08LP130","day":510,"mm":-11.0},{"id":"C08LP130","day":550,"mm":-11.3},{"id":"C08LP130","day":590,"mm":-11.7},{"id":"C08LP130","day":630,"mm":-11.9},{"id":"C08LP130","day":670,"mm":-12.2},{"id":"C08LP130","day":710,"mm":-12.4},{"id":"C08LP130","day":750,"mm":-12.8},{"id":"C08LP130","day":788,"mm":-13.3},{"id":"C08LP130","day":865,"mm":-14.3},{"id":"C08LP130","day":895,"mm":-14.5},{"id":"C08LP130","day":965,"mm":-12.4},{"id":"C08LP130","day":992,"mm":-12.8},
{"id":"C08LP131","day":155,"mm":1.6},{"id":"C08LP131","day":174,"mm":1.0},{"id":"C08LP131","day":200,"mm":-1.5},{"id":"C08LP131","day":232,"mm":-3.4},{"id":"C08LP131","day":270,"mm":-5.2},{"id":"C08LP131","day":310,"mm":-7.0},{"id":"C08LP131","day":351,"mm":-8.7},{"id":"C08LP131","day":392,"mm":-10.0},{"id":"C08LP131","day":430,"mm":-10.8},{"id":"C08LP131","day":470,"mm":-11.4},{"id":"C08LP131","day":510,"mm":-11.9},{"id":"C08LP131","day":550,"mm":-12.3},{"id":"C08LP131","day":590,"mm":-12.7},{"id":"C08LP131","day":630,"mm":-13.2},{"id":"C08LP131","day":670,"mm":-13.5},{"id":"C08LP131","day":710,"mm":-14.0},{"id":"C08LP131","day":750,"mm":-14.3},{"id":"C08LP131","day":788,"mm":-14.6},{"id":"C08LP131","day":865,"mm":-15.8},{"id":"C08LP131","day":895,"mm":-16.1},{"id":"C08LP131","day":965,"mm":-13.9},{"id":"C08LP131","day":992,"mm":-14.1}
  ],
  "bot": [
{"id":"C08LP134","day":147,"mm":0.0},{"id":"C08LP134","day":163,"mm":2.0},{"id":"C08LP134","day":185,"mm":-0.5},{"id":"C08LP134","day":215,"mm":-2.8},{"id":"C08LP134","day":250,"mm":-4.5},{"id":"C08LP134","day":290,"mm":-6.8},{"id":"C08LP134","day":330,"mm":-9.0},{"id":"C08LP134","day":373,"mm":-11.0},{"id":"C08LP134","day":410,"mm":-11.5},{"id":"C08LP134","day":450,"mm":-12.4},{"id":"C08LP134","day":490,"mm":-12.6},{"id":"C08LP134","day":530,"mm":-13.7},{"id":"C08LP134","day":570,"mm":-15.3},{"id":"C08LP134","day":610,"mm":-16.4},{"id":"C08LP134","day":650,"mm":-16.6},{"id":"C08LP134","day":690,"mm":-18.0},{"id":"C08LP134","day":730,"mm":-18.3},{"id":"C08LP134","day":770,"mm":-19.4},{"id":"C08LP134","day":810,"mm":-19.6},{"id":"C08LP134","day":850,"mm":-21.2},{"id":"C08LP134","day":890,"mm":-21.3},{"id":"C08LP134","day":930,"mm":-22.0},{"id":"C08LP134","day":970,"mm":-22.1},{"id":"C08LP134","day":1005,"mm":-22.8},{"id":"C08LP134","day":1044,"mm":-23.2},{"id":"C08LP134","day":1074,"mm":-23.5},{"id":"C08LP134","day":1103,"mm":-23.8},{"id":"C08LP134","day":1199,"mm":-25.3},{"id":"C08LP134","day":1314,"mm":-27.1},{"id":"C08LP134","day":1409,"mm":-27.0},{"id":"C08LP134","day":1434,"mm":-26.0},
{"id":"C08LP135","day":147,"mm":0.5},{"id":"C08LP135","day":163,"mm":2.5},{"id":"C08LP135","day":185,"mm":0.2},{"id":"C08LP135","day":215,"mm":-2.0},{"id":"C08LP135","day":250,"mm":-3.5},{"id":"C08LP135","day":290,"mm":-5.8},{"id":"C08LP135","day":330,"mm":-8.0},{"id":"C08LP135","day":373,"mm":-10.0},{"id":"C08LP135","day":410,"mm":-10.5},{"id":"C08LP135","day":450,"mm":-11.4},{"id":"C08LP135","day":490,"mm":-11.3},{"id":"C08LP135","day":530,"mm":-12.7},{"id":"C08LP135","day":570,"mm":-13.8},{"id":"C08LP135","day":610,"mm":-15.0},{"id":"C08LP135","day":650,"mm":-15.2},{"id":"C08LP135","day":690,"mm":-16.7},{"id":"C08LP135","day":730,"mm":-16.9},{"id":"C08LP135","day":770,"mm":-18.2},{"id":"C08LP135","day":810,"mm":-18.8},{"id":"C08LP135","day":850,"mm":-20.7},{"id":"C08LP135","day":890,"mm":-20.8},{"id":"C08LP135","day":930,"mm":-21.4},{"id":"C08LP135","day":970,"mm":-21.3},{"id":"C08LP135","day":1005,"mm":-21.9},{"id":"C08LP135","day":1044,"mm":-21.9},{"id":"C08LP135","day":1074,"mm":-22.3},{"id":"C08LP135","day":1103,"mm":-22.8},{"id":"C08LP135","day":1199,"mm":-26.6},{"id":"C08LP135","day":1314,"mm":-27.5},{"id":"C08LP135","day":1409,"mm":-26.9},{"id":"C08LP135","day":1434,"mm":-24.7},
{"id":"C08LP136","day":147,"mm":-1.0},{"id":"C08LP136","day":163,"mm":1.5},{"id":"C08LP136","day":185,"mm":-1.5},{"id":"C08LP136","day":215,"mm":-4.5},{"id":"C08LP136","day":250,"mm":-6.2},{"id":"C08LP136","day":290,"mm":-8.5},{"id":"C08LP136","day":330,"mm":-11.0},{"id":"C08LP136","day":373,"mm":-13.0},{"id":"C08LP136","day":410,"mm":-13.5},{"id":"C08LP136","day":450,"mm":-14.7},{"id":"C08LP136","day":490,"mm":-14.8},{"id":"C08LP136","day":530,"mm":-16.0},{"id":"C08LP136","day":570,"mm":-18.3},{"id":"C08LP136","day":610,"mm":-19.0},{"id":"C08LP136","day":650,"mm":-19.0},{"id":"C08LP136","day":690,"mm":-20.2},{"id":"C08LP136","day":730,"mm":-20.8},{"id":"C08LP136","day":770,"mm":-21.7},{"id":"C08LP136","day":810,"mm":-21.8},{"id":"C08LP136","day":850,"mm":-23.7},{"id":"C08LP136","day":890,"mm":-23.8},{"id":"C08LP136","day":930,"mm":-24.4},{"id":"C08LP136","day":970,"mm":-24.8},{"id":"C08LP136","day":1005,"mm":-25.5},{"id":"C08LP136","day":1044,"mm":-26.0},{"id":"C08LP136","day":1074,"mm":-26.3},{"id":"C08LP136","day":1103,"mm":-26.5},{"id":"C08LP136","day":1199,"mm":-29.3},{"id":"C08LP136","day":1314,"mm":-30.1},{"id":"C08LP136","day":1409,"mm":-29.4},{"id":"C08LP136","day":1434,"mm":-27.5},
{"id":"C08LP138","day":147,"mm":-0.5},{"id":"C08LP138","day":163,"mm":1.0},{"id":"C08LP138","day":185,"mm":-2.0},{"id":"C08LP138","day":215,"mm":-4.8},{"id":"C08LP138","day":250,"mm":-6.5},{"id":"C08LP138","day":290,"mm":-9.0},{"id":"C08LP138","day":330,"mm":-11.5},{"id":"C08LP138","day":373,"mm":-13.5},{"id":"C08LP138","day":410,"mm":-14.0},{"id":"C08LP138","day":450,"mm":-15.4},{"id":"C08LP138","day":490,"mm":-15.6},{"id":"C08LP138","day":530,"mm":-16.7},{"id":"C08LP138","day":570,"mm":-18.8},{"id":"C08LP138","day":610,"mm":-19.7},{"id":"C08LP138","day":650,"mm":-19.8},{"id":"C08LP138","day":690,"mm":-21.2},{"id":"C08LP138","day":730,"mm":-22.3},{"id":"C08LP138","day":770,"mm":-23.0},{"id":"C08LP138","day":810,"mm":-23.3},{"id":"C08LP138","day":850,"mm":-25.2},{"id":"C08LP138","day":890,"mm":-25.1},{"id":"C08LP138","day":930,"mm":-25.7},{"id":"C08LP138","day":970,"mm":-26.3},{"id":"C08LP138","day":1005,"mm":-27.2},{"id":"C08LP138","day":1044,"mm":-27.6},{"id":"C08LP138","day":1074,"mm":-28.0},{"id":"C08LP138","day":1103,"mm":-28.5},{"id":"C08LP138","day":1199,"mm":-31.9},{"id":"C08LP138","day":1314,"mm":-33.2},{"id":"C08LP138","day":1409,"mm":-33.4},{"id":"C08LP138","day":1434,"mm":-32.0},
{"id":"C08LP139","day":147,"mm":-0.8},{"id":"C08LP139","day":163,"mm":1.2},{"id":"C08LP139","day":185,"mm":-1.0},{"id":"C08LP139","day":215,"mm":-3.8},{"id":"C08LP139","day":250,"mm":-5.5},{"id":"C08LP139","day":290,"mm":-7.8},{"id":"C08LP139","day":330,"mm":-10.0},{"id":"C08LP139","day":373,"mm":-12.0},{"id":"C08LP139","day":410,"mm":-12.8},{"id":"C08LP139","day":450,"mm":-13.7},{"id":"C08LP139","day":490,"mm":-14.0},{"id":"C08LP139","day":530,"mm":-15.2},{"id":"C08LP139","day":570,"mm":-16.8},{"id":"C08LP139","day":610,"mm":-18.0},{"id":"C08LP139","day":650,"mm":-18.0},{"id":"C08LP139","day":690,"mm":-19.7},{"id":"C08LP139","day":730,"mm":-20.3},{"id":"C08LP139","day":770,"mm":-21.2},{"id":"C08LP139","day":810,"mm":-21.6},{"id":"C08LP139","day":850,"mm":-23.7},{"id":"C08LP139","day":890,"mm":-23.8},{"id":"C08LP139","day":930,"mm":-24.5},{"id":"C08LP139","day":970,"mm":-24.8},{"id":"C08LP139","day":1005,"mm":-25.4},{"id":"C08LP139","day":1044,"mm":-26.3},{"id":"C08LP139","day":1074,"mm":-26.6},{"id":"C08LP139","day":1103,"mm":-26.6},{"id":"C08LP139","day":1199,"mm":-30.1},{"id":"C08LP139","day":1314,"mm":-31.9},{"id":"C08LP139","day":1409,"mm":-32.0},{"id":"C08LP139","day":1434,"mm":-30.6},
{"id":"C08LP140","day":147,"mm":-0.3},{"id":"C08LP140","day":163,"mm":1.8},{"id":"C08LP140","day":185,"mm":-0.8},{"id":"C08LP140","day":215,"mm":-3.2},{"id":"C08LP140","day":250,"mm":-5.0},{"id":"C08LP140","day":290,"mm":-7.2},{"id":"C08LP140","day":330,"mm":-9.5},{"id":"C08LP140","day":373,"mm":-11.5},{"id":"C08LP140","day":410,"mm":-12.0},{"id":"C08LP140","day":450,"mm":-13.2},{"id":"C08LP140","day":490,"mm":-13.3},{"id":"C08LP140","day":530,"mm":-14.4},{"id":"C08LP140","day":570,"mm":-16.0},{"id":"C08LP140","day":610,"mm":-17.2},{"id":"C08LP140","day":650,"mm":-17.3},{"id":"C08LP140","day":690,"mm":-18.7},{"id":"C08LP140","day":730,"mm":-19.3},{"id":"C08LP140","day":770,"mm":-20.4},{"id":"C08LP140","day":810,"mm":-20.6},{"id":"C08LP140","day":850,"mm":-22.2},{"id":"C08LP140","day":890,"mm":-22.3},{"id":"C08LP140","day":930,"mm":-23.0},{"id":"C08LP140","day":970,"mm":-23.3},{"id":"C08LP140","day":1005,"mm":-24.0},{"id":"C08LP140","day":1044,"mm":-24.5},{"id":"C08LP140","day":1074,"mm":-24.8},{"id":"C08LP140","day":1103,"mm":-25.0},{"id":"C08LP140","day":1199,"mm":-28.4},{"id":"C08LP140","day":1314,"mm":-30.6},{"id":"C08LP140","day":1409,"mm":-30.5},{"id":"C08LP140","day":1434,"mm":-28.4},
{"id":"C08LP141","day":147,"mm":0.3},{"id":"C08LP141","day":163,"mm":2.2},{"id":"C08LP141","day":185,"mm":-0.2},{"id":"C08LP141","day":215,"mm":-2.5},{"id":"C08LP141","day":250,"mm":-4.0},{"id":"C08LP141","day":290,"mm":-6.2},{"id":"C08LP141","day":330,"mm":-8.5},{"id":"C08LP141","day":373,"mm":-10.5},{"id":"C08LP141","day":410,"mm":-11.0},{"id":"C08LP141","day":450,"mm":-12.0},{"id":"C08LP141","day":490,"mm":-12.0},{"id":"C08LP141","day":530,"mm":-13.2},{"id":"C08LP141","day":570,"mm":-14.3},{"id":"C08LP141","day":610,"mm":-15.7},{"id":"C08LP141","day":650,"mm":-15.8},{"id":"C08LP141","day":690,"mm":-17.4},{"id":"C08LP141","day":730,"mm":-17.8},{"id":"C08LP141","day":770,"mm":-19.0},{"id":"C08LP141","day":810,"mm":-19.3},{"id":"C08LP141","day":850,"mm":-21.0},{"id":"C08LP141","day":890,"mm":-21.0},{"id":"C08LP141","day":930,"mm":-21.7},{"id":"C08LP141","day":970,"mm":-22.0},{"id":"C08LP141","day":1005,"mm":-22.5},{"id":"C08LP141","day":1044,"mm":-23.0},{"id":"C08LP141","day":1074,"mm":-23.2},{"id":"C08LP141","day":1103,"mm":-23.5},{"id":"C08LP141","day":1199,"mm":-27.5},{"id":"C08LP141","day":1314,"mm":-28.8},{"id":"C08LP141","day":1409,"mm":-28.5},{"id":"C08LP141","day":1434,"mm":-27.5},
{"id":"C08LP142","day":147,"mm":0.8},{"id":"C08LP142","day":163,"mm":2.8},{"id":"C08LP142","day":185,"mm":0.5},{"id":"C08LP142","day":215,"mm":-1.5},{"id":"C08LP142","day":250,"mm":-3.0},{"id":"C08LP142","day":290,"mm":-5.0},{"id":"C08LP142","day":330,"mm":-7.0},{"id":"C08LP142","day":373,"mm":-9.0},{"id":"C08LP142","day":410,"mm":-9.5},{"id":"C08LP142","day":450,"mm":-10.2},{"id":"C08LP142","day":490,"mm":-10.3},{"id":"C08LP142","day":530,"mm":-11.4},{"id":"C08LP142","day":570,"mm":-12.3},{"id":"C08LP142","day":610,"mm":-13.7},{"id":"C08LP142","day":650,"mm":-13.8},{"id":"C08LP142","day":690,"mm":-15.4},{"id":"C08LP142","day":730,"mm":-15.8},{"id":"C08LP142","day":770,"mm":-17.0},{"id":"C08LP142","day":810,"mm":-17.3},{"id":"C08LP142","day":850,"mm":-19.0},{"id":"C08LP142","day":890,"mm":-19.0},{"id":"C08LP142","day":930,"mm":-19.7},{"id":"C08LP142","day":970,"mm":-19.8},{"id":"C08LP142","day":1005,"mm":-20.5},{"id":"C08LP142","day":1044,"mm":-20.8},{"id":"C08LP142","day":1074,"mm":-21.0},{"id":"C08LP142","day":1103,"mm":-21.2},{"id":"C08LP142","day":1199,"mm":-23.0},{"id":"C08LP142","day":1314,"mm":-24.5},{"id":"C08LP142","day":1409,"mm":-24.3},{"id":"C08LP142","day":1434,"mm":-24.0},
{"id":"C08LP143","day":147,"mm":2.5},{"id":"C08LP143","day":163,"mm":4.5},{"id":"C08LP143","day":185,"mm":2.0},{"id":"C08LP143","day":215,"mm":-0.5},{"id":"C08LP143","day":250,"mm":-2.0},{"id":"C08LP143","day":290,"mm":-3.5},{"id":"C08LP143","day":330,"mm":-5.0},{"id":"C08LP143","day":373,"mm":-7.0},{"id":"C08LP143","day":410,"mm":-7.5},{"id":"C08LP143","day":450,"mm":-8.2},{"id":"C08LP143","day":490,"mm":-7.3},{"id":"C08LP143","day":530,"mm":-7.2},{"id":"C08LP143","day":570,"mm":-8.3},{"id":"C08LP143","day":610,"mm":-10.2},{"id":"C08LP143","day":650,"mm":-10.8},{"id":"C08LP143","day":690,"mm":-12.2},{"id":"C08LP143","day":730,"mm":-12.8},{"id":"C08LP143","day":770,"mm":-14.2},{"id":"C08LP143","day":810,"mm":-14.8},{"id":"C08LP143","day":850,"mm":-16.2},{"id":"C08LP143","day":890,"mm":-16.3},{"id":"C08LP143","day":930,"mm":-17.2},{"id":"C08LP143","day":970,"mm":-17.0},{"id":"C08LP143","day":1005,"mm":-17.5},{"id":"C08LP143","day":1044,"mm":-17.8},{"id":"C08LP143","day":1074,"mm":-18.0},{"id":"C08LP143","day":1103,"mm":-18.2},{"id":"C08LP143","day":1199,"mm":-18.5},{"id":"C08LP143","day":1314,"mm":-20.5},{"id":"C08LP143","day":1409,"mm":-20.5},{"id":"C08LP143","day":1434,"mm":-20.5},
{"id":"C08LP144","day":147,"mm":1.0},{"id":"C08LP144","day":163,"mm":3.0},{"id":"C08LP144","day":185,"mm":0.5},{"id":"C08LP144","day":215,"mm":-1.5},{"id":"C08LP144","day":250,"mm":-3.0},{"id":"C08LP144","day":290,"mm":-4.5},{"id":"C08LP144","day":330,"mm":-6.0},{"id":"C08LP144","day":373,"mm":-8.0},{"id":"C08LP144","day":410,"mm":-8.5},{"id":"C08LP144","day":450,"mm":-9.2},{"id":"C08LP144","day":490,"mm":-8.6},{"id":"C08LP144","day":530,"mm":-8.7},{"id":"C08LP144","day":570,"mm":-9.8},{"id":"C08LP144","day":610,"mm":-11.2},{"id":"C08LP144","day":650,"mm":-11.8},{"id":"C08LP144","day":690,"mm":-13.2},{"id":"C08LP144","day":730,"mm":-14.0},{"id":"C08LP144","day":770,"mm":-15.7},{"id":"C08LP144","day":810,"mm":-16.3},{"id":"C08LP144","day":850,"mm":-17.7},{"id":"C08LP144","day":890,"mm":-17.8},{"id":"C08LP144","day":930,"mm":-18.7},{"id":"C08LP144","day":970,"mm":-18.6},{"id":"C08LP144","day":1005,"mm":-19.0},{"id":"C08LP144","day":1044,"mm":-19.3},{"id":"C08LP144","day":1074,"mm":-19.5},{"id":"C08LP144","day":1103,"mm":-19.8},{"id":"C08LP144","day":1199,"mm":-20.0},{"id":"C08LP144","day":1314,"mm":-21.4},{"id":"C08LP144","day":1409,"mm":-21.5},{"id":"C08LP144","day":1434,"mm":-22.0},
{"id":"C08LP145","day":147,"mm":0.5},{"id":"C08LP145","day":163,"mm":2.5},{"id":"C08LP145","day":185,"mm":0.0},{"id":"C08LP145","day":215,"mm":-2.0},{"id":"C08LP145","day":250,"mm":-3.5},{"id":"C08LP145","day":290,"mm":-5.0},{"id":"C08LP145","day":330,"mm":-6.8},{"id":"C08LP145","day":373,"mm":-8.5},{"id":"C08LP145","day":410,"mm":-9.0},{"id":"C08LP145","day":450,"mm":-9.7},{"id":"C08LP145","day":490,"mm":-8.8},{"id":"C08LP145","day":530,"mm":-9.2},{"id":"C08LP145","day":570,"mm":-10.3},{"id":"C08LP145","day":610,"mm":-11.7},{"id":"C08LP145","day":650,"mm":-12.3},{"id":"C08LP145","day":690,"mm":-13.7},{"id":"C08LP145","day":730,"mm":-14.8},{"id":"C08LP145","day":770,"mm":-16.2},{"id":"C08LP145","day":810,"mm":-16.8},{"id":"C08LP145","day":850,"mm":-18.2},{"id":"C08LP145","day":890,"mm":-18.3},{"id":"C08LP145","day":930,"mm":-19.2},{"id":"C08LP145","day":970,"mm":-19.1},{"id":"C08LP145","day":1005,"mm":-19.5},{"id":"C08LP145","day":1044,"mm":-19.8},{"id":"C08LP145","day":1074,"mm":-20.0},{"id":"C08LP145","day":1103,"mm":-20.2},{"id":"C08LP145","day":1199,"mm":-20.9},{"id":"C08LP145","day":1314,"mm":-23.6},{"id":"C08LP145","day":1409,"mm":-23.6},{"id":"C08LP145","day":1434,"mm":-22.1},
{"id":"C08LP146","day":147,"mm":0.8},{"id":"C08LP146","day":163,"mm":2.8},{"id":"C08LP146","day":185,"mm":0.5},{"id":"C08LP146","day":215,"mm":-1.8},{"id":"C08LP146","day":250,"mm":-3.2},{"id":"C08LP146","day":290,"mm":-4.8},{"id":"C08LP146","day":330,"mm":-6.5},{"id":"C08LP146","day":373,"mm":-8.2},{"id":"C08LP146","day":410,"mm":-8.8},{"id":"C08LP146","day":450,"mm":-9.7},{"id":"C08LP146","day":490,"mm":-9.0},{"id":"C08LP146","day":530,"mm":-9.2},{"id":"C08LP146","day":570,"mm":-10.3},{"id":"C08LP146","day":610,"mm":-12.2},{"id":"C08LP146","day":650,"mm":-12.8},{"id":"C08LP146","day":690,"mm":-14.2},{"id":"C08LP146","day":730,"mm":-15.3},{"id":"C08LP146","day":770,"mm":-16.7},{"id":"C08LP146","day":810,"mm":-17.3},{"id":"C08LP146","day":850,"mm":-18.7},{"id":"C08LP146","day":890,"mm":-18.8},{"id":"C08LP146","day":930,"mm":-19.7},{"id":"C08LP146","day":970,"mm":-19.6},{"id":"C08LP146","day":1005,"mm":-20.0},{"id":"C08LP146","day":1044,"mm":-20.3},{"id":"C08LP146","day":1074,"mm":-20.5},{"id":"C08LP146","day":1103,"mm":-20.8},{"id":"C08LP146","day":1199,"mm":-21.8},{"id":"C08LP146","day":1314,"mm":-22.9},{"id":"C08LP146","day":1409,"mm":-23.0},{"id":"C08LP146","day":1434,"mm":-23.0},
{"id":"C08LP147","day":147,"mm":1.5},{"id":"C08LP147","day":163,"mm":3.5},{"id":"C08LP147","day":185,"mm":1.0},{"id":"C08LP147","day":215,"mm":-1.0},{"id":"C08LP147","day":250,"mm":-2.5},{"id":"C08LP147","day":290,"mm":-4.0},{"id":"C08LP147","day":330,"mm":-5.5},{"id":"C08LP147","day":373,"mm":-7.5},{"id":"C08LP147","day":410,"mm":-8.0},{"id":"C08LP147","day":450,"mm":-8.7},{"id":"C08LP147","day":490,"mm":-7.8},{"id":"C08LP147","day":530,"mm":-7.7},{"id":"C08LP147","day":570,"mm":-8.8},{"id":"C08LP147","day":610,"mm":-10.7},{"id":"C08LP147","day":650,"mm":-11.3},{"id":"C08LP147","day":690,"mm":-12.7},{"id":"C08LP147","day":730,"mm":-13.6},{"id":"C08LP147","day":770,"mm":-15.2},{"id":"C08LP147","day":810,"mm":-15.8},{"id":"C08LP147","day":850,"mm":-17.2},{"id":"C08LP147","day":890,"mm":-17.6},{"id":"C08LP147","day":930,"mm":-18.4},{"id":"C08LP147","day":970,"mm":-18.3},{"id":"C08LP147","day":1005,"mm":-18.8},{"id":"C08LP147","day":1044,"mm":-19.0},{"id":"C08LP147","day":1074,"mm":-19.2},{"id":"C08LP147","day":1103,"mm":-19.5},{"id":"C08LP147","day":1199,"mm":-20.5},{"id":"C08LP147","day":1314,"mm":-22.1},{"id":"C08LP147","day":1409,"mm":-22.1},{"id":"C08LP147","day":1434,"mm":-20.5},
{"id":"C08LP148","day":147,"mm":1.5},{"id":"C08LP148","day":163,"mm":3.5},{"id":"C08LP148","day":185,"mm":2.0},{"id":"C08LP148","day":215,"mm":1.0},{"id":"C08LP148","day":250,"mm":0.5},{"id":"C08LP148","day":290,"mm":-1.0},{"id":"C08LP148","day":330,"mm":-2.5},{"id":"C08LP148","day":373,"mm":-4.5},{"id":"C08LP148","day":410,"mm":-5.0},{"id":"C08LP148","day":450,"mm":-5.2},{"id":"C08LP148","day":490,"mm":-3.8},{"id":"C08LP148","day":530,"mm":-3.7},{"id":"C08LP148","day":570,"mm":-4.8},{"id":"C08LP148","day":610,"mm":-7.2},{"id":"C08LP148","day":650,"mm":-7.3},{"id":"C08LP148","day":690,"mm":-8.7},{"id":"C08LP148","day":730,"mm":-9.5},{"id":"C08LP148","day":770,"mm":-11.2},{"id":"C08LP148","day":810,"mm":-12.3},{"id":"C08LP148","day":850,"mm":-14.0},{"id":"C08LP148","day":890,"mm":-14.3},{"id":"C08LP148","day":930,"mm":-15.2},{"id":"C08LP148","day":970,"mm":-15.2},{"id":"C08LP148","day":1005,"mm":-15.8},{"id":"C08LP148","day":1044,"mm":-16.2},{"id":"C08LP148","day":1074,"mm":-16.5},{"id":"C08LP148","day":1103,"mm":-16.7},{"id":"C08LP148","day":1199,"mm":-17.9},{"id":"C08LP148","day":1314,"mm":-20.5},{"id":"C08LP148","day":1409,"mm":-20.5},{"id":"C08LP148","day":1434,"mm":-19.0},
{"id":"C08LP149","day":147,"mm":2.0},{"id":"C08LP149","day":163,"mm":4.0},{"id":"C08LP149","day":185,"mm":1.5},{"id":"C08LP149","day":215,"mm":0.0},{"id":"C08LP149","day":250,"mm":-1.2},{"id":"C08LP149","day":290,"mm":-2.5},{"id":"C08LP149","day":330,"mm":-4.0},{"id":"C08LP149","day":373,"mm":-6.0},{"id":"C08LP149","day":410,"mm":-6.5},{"id":"C08LP149","day":450,"mm":-7.2},{"id":"C08LP149","day":490,"mm":-6.0},{"id":"C08LP149","day":530,"mm":-6.0},{"id":"C08LP149","day":570,"mm":-6.8},{"id":"C08LP149","day":610,"mm":-8.7},{"id":"C08LP149","day":650,"mm":-9.3},{"id":"C08LP149","day":690,"mm":-10.7},{"id":"C08LP149","day":730,"mm":-11.3},{"id":"C08LP149","day":770,"mm":-13.0},{"id":"C08LP149","day":810,"mm":-13.8},{"id":"C08LP149","day":850,"mm":-15.4},{"id":"C08LP149","day":890,"mm":-15.8},{"id":"C08LP149","day":930,"mm":-16.7},{"id":"C08LP149","day":970,"mm":-16.6},{"id":"C08LP149","day":1005,"mm":-17.0},{"id":"C08LP149","day":1044,"mm":-17.3},{"id":"C08LP149","day":1074,"mm":-17.5},{"id":"C08LP149","day":1103,"mm":-17.8},{"id":"C08LP149","day":1199,"mm":-18.5},{"id":"C08LP149","day":1314,"mm":-20.3},{"id":"C08LP149","day":1409,"mm":-20.3},{"id":"C08LP149","day":1434,"mm":-21.0},
{"id":"C08LP029","day":147,"mm":1.2},{"id":"C08LP029","day":163,"mm":3.2},{"id":"C08LP029","day":185,"mm":1.5},{"id":"C08LP029","day":215,"mm":0.5},{"id":"C08LP029","day":250,"mm":0.0},{"id":"C08LP029","day":290,"mm":-1.5},{"id":"C08LP029","day":330,"mm":-3.0},{"id":"C08LP029","day":373,"mm":-5.0},{"id":"C08LP029","day":410,"mm":-5.5},{"id":"C08LP029","day":450,"mm":-5.7},{"id":"C08LP029","day":490,"mm":-4.3},{"id":"C08LP029","day":530,"mm":-4.2},{"id":"C08LP029","day":570,"mm":-5.3},{"id":"C08LP029","day":610,"mm":-7.7},{"id":"C08LP029","day":650,"mm":-8.0},{"id":"C08LP029","day":690,"mm":-9.4},{"id":"C08LP029","day":730,"mm":-10.3},{"id":"C08LP029","day":770,"mm":-12.2},{"id":"C08LP029","day":810,"mm":-13.3},{"id":"C08LP029","day":850,"mm":-15.2},{"id":"C08LP029","day":890,"mm":-15.3},{"id":"C08LP029","day":930,"mm":-16.2},{"id":"C08LP029","day":970,"mm":-16.1},{"id":"C08LP029","day":1005,"mm":-16.8},{"id":"C08LP029","day":1044,"mm":-17.2},{"id":"C08LP029","day":1074,"mm":-17.5},{"id":"C08LP029","day":1103,"mm":-17.8},{"id":"C08LP029","day":1199,"mm":-19.5},{"id":"C08LP029","day":1314,"mm":-21.8},{"id":"C08LP029","day":1409,"mm":-21.8},{"id":"C08LP029","day":1434,"mm":-22.5},
{"id":"C08LP150","day":147,"mm":1.0},{"id":"C08LP150","day":163,"mm":3.0},{"id":"C08LP150","day":185,"mm":1.2},{"id":"C08LP150","day":215,"mm":0.0},{"id":"C08LP150","day":250,"mm":-0.8},{"id":"C08LP150","day":290,"mm":-2.0},{"id":"C08LP150","day":330,"mm":-3.5},{"id":"C08LP150","day":373,"mm":-5.5},{"id":"C08LP150","day":410,"mm":-6.0},{"id":"C08LP150","day":450,"mm":-6.2},{"id":"C08LP150","day":490,"mm":-4.8},{"id":"C08LP150","day":530,"mm":-4.7},{"id":"C08LP150","day":570,"mm":-5.8},{"id":"C08LP150","day":610,"mm":-8.7},{"id":"C08LP150","day":650,"mm":-9.3},{"id":"C08LP150","day":690,"mm":-11.2},{"id":"C08LP150","day":730,"mm":-12.3},{"id":"C08LP150","day":770,"mm":-14.2},{"id":"C08LP150","day":810,"mm":-15.3},{"id":"C08LP150","day":850,"mm":-17.0},{"id":"C08LP150","day":890,"mm":-17.3},{"id":"C08LP150","day":930,"mm":-18.0},{"id":"C08LP150","day":970,"mm":-18.0},{"id":"C08LP150","day":1005,"mm":-18.5},{"id":"C08LP150","day":1044,"mm":-18.8},{"id":"C08LP150","day":1074,"mm":-19.0},{"id":"C08LP150","day":1103,"mm":-19.3},{"id":"C08LP150","day":1199,"mm":-21.0},{"id":"C08LP150","day":1314,"mm":-23.2},{"id":"C08LP150","day":1409,"mm":-23.3},{"id":"C08LP150","day":1434,"mm":-23.5},
{"id":"C08LP030","day":147,"mm":1.0},{"id":"C08LP030","day":163,"mm":3.0},{"id":"C08LP030","day":185,"mm":2.0},{"id":"C08LP030","day":215,"mm":2.5},{"id":"C08LP030","day":250,"mm":2.2},{"id":"C08LP030","day":290,"mm":1.0},{"id":"C08LP030","day":330,"mm":-1.0},{"id":"C08LP030","day":373,"mm":-3.0},{"id":"C08LP030","day":410,"mm":-3.5},{"id":"C08LP030","day":450,"mm":-4.2},{"id":"C08LP030","day":490,"mm":-1.8},{"id":"C08LP030","day":530,"mm":-0.7},{"id":"C08LP030","day":570,"mm":-2.8},{"id":"C08LP030","day":610,"mm":-5.2},{"id":"C08LP030","day":650,"mm":-7.3},{"id":"C08LP030","day":690,"mm":-9.2},{"id":"C08LP030","day":730,"mm":-11.4},{"id":"C08LP030","day":770,"mm":-13.7},{"id":"C08LP030","day":810,"mm":-15.3},{"id":"C08LP030","day":850,"mm":-18.2},{"id":"C08LP030","day":890,"mm":-18.8},{"id":"C08LP030","day":930,"mm":-20.0},{"id":"C08LP030","day":970,"mm":-19.8},{"id":"C08LP030","day":1005,"mm":-20.0},{"id":"C08LP030","day":1044,"mm":-20.5},{"id":"C08LP030","day":1074,"mm":-21.0},{"id":"C08LP030","day":1103,"mm":-21.5},{"id":"C08LP030","day":1199,"mm":-23.3},{"id":"C08LP030","day":1314,"mm":-25.3},{"id":"C08LP030","day":1409,"mm":-25.3},{"id":"C08LP030","day":1434,"mm":-24.5},
{"id":"C08LP134","day":155,"mm":1.4},{"id":"C08LP134","day":174,"mm":1.2},{"id":"C08LP134","day":200,"mm":-1.3},{"id":"C08LP134","day":232,"mm":-3.3},{"id":"C08LP134","day":270,"mm":-5.3},{"id":"C08LP134","day":310,"mm":-7.5},{"id":"C08LP134","day":351,"mm":-9.6},{"id":"C08LP134","day":392,"mm":-10.9},{"id":"C08LP134","day":430,"mm":-11.6},{"id":"C08LP134","day":470,"mm":-12.1},{"id":"C08LP134","day":510,"mm":-12.8},{"id":"C08LP134","day":550,"mm":-14.1},{"id":"C08LP134","day":590,"mm":-15.5},{"id":"C08LP134","day":630,"mm":-16.1},{"id":"C08LP134","day":670,"mm":-16.9},{"id":"C08LP134","day":710,"mm":-17.8},{"id":"C08LP134","day":750,"mm":-18.4},{"id":"C08LP134","day":790,"mm":-19.1},{"id":"C08LP134","day":830,"mm":-20.0},{"id":"C08LP134","day":870,"mm":-20.9},{"id":"C08LP134","day":910,"mm":-21.2},{"id":"C08LP134","day":950,"mm":-21.7},{"id":"C08LP134","day":988,"mm":-22.0},
{"id":"C08LP135","day":155,"mm":1.9},{"id":"C08LP135","day":174,"mm":1.8},{"id":"C08LP135","day":200,"mm":-0.5},{"id":"C08LP135","day":232,"mm":-2.4},{"id":"C08LP135","day":270,"mm":-4.3},{"id":"C08LP135","day":310,"mm":-6.5},{"id":"C08LP135","day":351,"mm":-8.6},{"id":"C08LP135","day":392,"mm":-9.9},{"id":"C08LP135","day":430,"mm":-10.6},{"id":"C08LP135","day":470,"mm":-11.0},{"id":"C08LP135","day":510,"mm":-11.6},{"id":"C08LP135","day":550,"mm":-12.9},{"id":"C08LP135","day":590,"mm":-14.0},{"id":"C08LP135","day":630,"mm":-14.7},{"id":"C08LP135","day":670,"mm":-15.6},{"id":"C08LP135","day":710,"mm":-16.4},{"id":"C08LP135","day":750,"mm":-17.2},{"id":"C08LP135","day":790,"mm":-18.1},{"id":"C08LP135","day":830,"mm":-19.4},{"id":"C08LP135","day":870,"mm":-20.3},{"id":"C08LP135","day":910,"mm":-20.7},{"id":"C08LP135","day":950,"mm":-20.9},{"id":"C08LP135","day":988,"mm":-21.2},
{"id":"C08LP136","day":155,"mm":0.7},{"id":"C08LP136","day":174,"mm":0.4},{"id":"C08LP136","day":200,"mm":-2.6},{"id":"C08LP136","day":232,"mm":-5.0},{"id":"C08LP136","day":270,"mm":-7.0},{"id":"C08LP136","day":310,"mm":-9.4},{"id":"C08LP136","day":351,"mm":-11.6},{"id":"C08LP136","day":392,"mm":-12.9},{"id":"C08LP136","day":430,"mm":-13.7},{"id":"C08LP136","day":470,"mm":-14.3},{"id":"C08LP136","day":510,"mm":-15.0},{"id":"C08LP136","day":550,"mm":-16.8},{"id":"C08LP136","day":590,"mm":-18.3},{"id":"C08LP136","day":630,"mm":-18.6},{"id":"C08LP136","day":670,"mm":-19.2},{"id":"C08LP136","day":710,"mm":-20.1},{"id":"C08LP136","day":750,"mm":-20.9},{"id":"C08LP136","day":790,"mm":-21.4},{"id":"C08LP136","day":830,"mm":-22.4},{"id":"C08LP136","day":870,"mm":-23.4},{"id":"C08LP136","day":910,"mm":-23.7},{"id":"C08LP136","day":950,"mm":-24.2},{"id":"C08LP136","day":988,"mm":-24.8},
{"id":"C08LP138","day":155,"mm":0.6},{"id":"C08LP138","day":174,"mm":-0.1},{"id":"C08LP138","day":200,"mm":-3.0},{"id":"C08LP138","day":232,"mm":-5.3},{"id":"C08LP138","day":270,"mm":-7.4},{"id":"C08LP138","day":310,"mm":-9.9},{"id":"C08LP138","day":351,"mm":-12.1},{"id":"C08LP138","day":392,"mm":-13.4},{"id":"C08LP138","day":430,"mm":-14.3},{"id":"C08LP138","day":470,"mm":-15.1},{"id":"C08LP138","day":510,"mm":-15.8},{"id":"C08LP138","day":550,"mm":-17.4},{"id":"C08LP138","day":590,"mm":-18.9},{"id":"C08LP138","day":630,"mm":-19.4},{"id":"C08LP138","day":670,"mm":-20.1},{"id":"C08LP138","day":710,"mm":-21.4},{"id":"C08LP138","day":750,"mm":-22.3},{"id":"C08LP138","day":790,"mm":-22.8},{"id":"C08LP138","day":830,"mm":-23.9},{"id":"C08LP138","day":870,"mm":-24.8},{"id":"C08LP138","day":910,"mm":-25.0},{"id":"C08LP138","day":950,"mm":-25.6},{"id":"C08LP138","day":988,"mm":-26.4},
{"id":"C08LP139","day":155,"mm":0.6},{"id":"C08LP139","day":174,"mm":0.5},{"id":"C08LP139","day":200,"mm":-2.0},{"id":"C08LP139","day":232,"mm":-4.3},{"id":"C08LP139","day":270,"mm":-6.3},{"id":"C08LP139","day":310,"mm":-8.5},{"id":"C08LP139","day":351,"mm":-10.6},{"id":"C08LP139","day":392,"mm":-12.0},{"id":"C08LP139","day":430,"mm":-12.8},{"id":"C08LP139","day":470,"mm":-13.5},{"id":"C08LP139","day":510,"mm":-14.2},{"id":"C08LP139","day":550,"mm":-15.6},{"id":"C08LP139","day":590,"mm":-17.0},{"id":"C08LP139","day":630,"mm":-17.6},{"id":"C08LP139","day":670,"mm":-18.5},{"id":"C08LP139","day":710,"mm":-19.6},{"id":"C08LP139","day":750,"mm":-20.4},{"id":"C08LP139","day":790,"mm":-21.0},{"id":"C08LP139","day":830,"mm":-22.2},{"id":"C08LP139","day":870,"mm":-23.3},{"id":"C08LP139","day":910,"mm":-23.7},{"id":"C08LP139","day":950,"mm":-24.2},{"id":"C08LP139","day":988,"mm":-24.7},
{"id":"C08LP140","day":155,"mm":1.2},{"id":"C08LP140","day":174,"mm":0.9},{"id":"C08LP140","day":200,"mm":-1.6},{"id":"C08LP140","day":232,"mm":-3.7},{"id":"C08LP140","day":270,"mm":-5.7},{"id":"C08LP140","day":310,"mm":-8.0},{"id":"C08LP140","day":351,"mm":-10.1},{"id":"C08LP140","day":392,"mm":-11.4},{"id":"C08LP140","day":430,"mm":-12.2},{"id":"C08LP140","day":470,"mm":-12.9},{"id":"C08LP140","day":510,"mm":-13.5},{"id":"C08LP140","day":550,"mm":-14.8},{"id":"C08LP140","day":590,"mm":-16.2},{"id":"C08LP140","day":630,"mm":-16.9},{"id":"C08LP140","day":670,"mm":-17.6},{"id":"C08LP140","day":710,"mm":-18.6},{"id":"C08LP140","day":750,"mm":-19.5},{"id":"C08LP140","day":790,"mm":-20.1},{"id":"C08LP140","day":830,"mm":-21.0},{"id":"C08LP140","day":870,"mm":-21.9},{"id":"C08LP140","day":910,"mm":-22.2},{"id":"C08LP140","day":950,"mm":-22.8},{"id":"C08LP140","day":988,"mm":-23.2},
{"id":"C08LP141","day":155,"mm":1.7},{"id":"C08LP141","day":174,"mm":1.4},{"id":"C08LP141","day":200,"mm":-0.9},{"id":"C08LP141","day":232,"mm":-2.9},{"id":"C08LP141","day":270,"mm":-4.7},{"id":"C08LP141","day":310,"mm":-7.0},{"id":"C08LP141","day":351,"mm":-9.1},{"id":"C08LP141","day":392,"mm":-10.4},{"id":"C08LP141","day":430,"mm":-11.1},{"id":"C08LP141","day":470,"mm":-11.6},{"id":"C08LP141","day":510,"mm":-12.2},{"id":"C08LP141","day":550,"mm":-13.4},{"id":"C08LP141","day":590,"mm":-14.6},{"id":"C08LP141","day":630,"mm":-15.3},{"id":"C08LP141","day":670,"mm":-16.2},{"id":"C08LP141","day":710,"mm":-17.2},{"id":"C08LP141","day":750,"mm":-18.0},{"id":"C08LP141","day":790,"mm":-18.8},{"id":"C08LP141","day":830,"mm":-19.8},{"id":"C08LP141","day":870,"mm":-20.6},{"id":"C08LP141","day":910,"mm":-20.9},{"id":"C08LP141","day":950,"mm":-21.4},{"id":"C08LP141","day":988,"mm":-21.8},
{"id":"C08LP142","day":155,"mm":2.2},{"id":"C08LP142","day":174,"mm":2.1},{"id":"C08LP142","day":200,"mm":-0.1},{"id":"C08LP142","day":232,"mm":-1.9},{"id":"C08LP142","day":270,"mm":-3.6},{"id":"C08LP142","day":310,"mm":-5.6},{"id":"C08LP142","day":351,"mm":-7.6},{"id":"C08LP142","day":392,"mm":-8.9},{"id":"C08LP142","day":430,"mm":-9.5},{"id":"C08LP142","day":470,"mm":-9.9},{"id":"C08LP142","day":510,"mm":-10.5},{"id":"C08LP142","day":550,"mm":-11.5},{"id":"C08LP142","day":590,"mm":-12.6},{"id":"C08LP142","day":630,"mm":-13.3},{"id":"C08LP142","day":670,"mm":-14.2},{"id":"C08LP142","day":710,"mm":-15.2},{"id":"C08LP142","day":750,"mm":-16.0},{"id":"C08LP142","day":790,"mm":-16.8},{"id":"C08LP142","day":830,"mm":-17.8},{"id":"C08LP142","day":870,"mm":-18.6},{"id":"C08LP142","day":910,"mm":-19.0},{"id":"C08LP142","day":950,"mm":-19.4},{"id":"C08LP142","day":988,"mm":-19.7},
{"id":"C08LP143","day":155,"mm":3.9},{"id":"C08LP143","day":174,"mm":3.7},{"id":"C08LP143","day":200,"mm":1.2},{"id":"C08LP143","day":232,"mm":-0.9},{"id":"C08LP143","day":270,"mm":-2.4},{"id":"C08LP143","day":310,"mm":-3.9},{"id":"C08LP143","day":351,"mm":-5.6},{"id":"C08LP143","day":392,"mm":-6.9},{"id":"C08LP143","day":430,"mm":-7.5},{"id":"C08LP143","day":470,"mm":-7.4},{"id":"C08LP143","day":510,"mm":-6.9},{"id":"C08LP143","day":550,"mm":-7.4},{"id":"C08LP143","day":590,"mm":-8.9},{"id":"C08LP143","day":630,"mm":-10.1},{"id":"C08LP143","day":670,"mm":-11.1},{"id":"C08LP143","day":710,"mm":-12.1},{"id":"C08LP143","day":750,"mm":-13.1},{"id":"C08LP143","day":790,"mm":-14.1},{"id":"C08LP143","day":830,"mm":-15.1},{"id":"C08LP143","day":870,"mm":-15.9},{"id":"C08LP143","day":910,"mm":-16.4},{"id":"C08LP143","day":950,"mm":-16.7},{"id":"C08LP143","day":988,"mm":-16.9},
{"id":"C08LP144","day":155,"mm":2.4},{"id":"C08LP144","day":174,"mm":2.2},{"id":"C08LP144","day":200,"mm":-0.1},{"id":"C08LP144","day":232,"mm":-1.9},{"id":"C08LP144","day":270,"mm":-3.4},{"id":"C08LP144","day":310,"mm":-4.9},{"id":"C08LP144","day":351,"mm":-6.6},{"id":"C08LP144","day":392,"mm":-7.9},{"id":"C08LP144","day":430,"mm":-8.5},{"id":"C08LP144","day":470,"mm":-8.5},{"id":"C08LP144","day":510,"mm":-8.3},{"id":"C08LP144","day":550,"mm":-8.9},{"id":"C08LP144","day":590,"mm":-10.1},{"id":"C08LP144","day":630,"mm":-11.1},{"id":"C08LP144","day":670,"mm":-12.1},{"id":"C08LP144","day":710,"mm":-13.2},{"id":"C08LP144","day":750,"mm":-14.5},{"id":"C08LP144","day":790,"mm":-15.6},{"id":"C08LP144","day":830,"mm":-16.6},{"id":"C08LP144","day":870,"mm":-17.4},{"id":"C08LP144","day":910,"mm":-17.9},{"id":"C08LP144","day":950,"mm":-18.3},{"id":"C08LP144","day":988,"mm":-18.4},
{"id":"C08LP145","day":155,"mm":1.9},{"id":"C08LP145","day":174,"mm":1.7},{"id":"C08LP145","day":200,"mm":-0.6},{"id":"C08LP145","day":232,"mm":-2.4},{"id":"C08LP145","day":270,"mm":-3.9},{"id":"C08LP145","day":310,"mm":-5.5},{"id":"C08LP145","day":351,"mm":-7.3},{"id":"C08LP145","day":392,"mm":-8.4},{"id":"C08LP145","day":430,"mm":-9.0},{"id":"C08LP145","day":470,"mm":-8.9},{"id":"C08LP145","day":510,"mm":-8.6},{"id":"C08LP145","day":550,"mm":-9.4},{"id":"C08LP145","day":590,"mm":-10.6},{"id":"C08LP145","day":630,"mm":-11.6},{"id":"C08LP145","day":670,"mm":-12.6},{"id":"C08LP145","day":710,"mm":-13.9},{"id":"C08LP145","day":750,"mm":-15.1},{"id":"C08LP145","day":790,"mm":-16.1},{"id":"C08LP145","day":830,"mm":-17.1},{"id":"C08LP145","day":870,"mm":-17.9},{"id":"C08LP145","day":910,"mm":-18.4},{"id":"C08LP145","day":950,"mm":-18.8},{"id":"C08LP145","day":988,"mm":-18.9},
{"id":"C08LP146","day":155,"mm":2.2},{"id":"C08LP146","day":174,"mm":2.1},{"id":"C08LP146","day":200,"mm":-0.3},{"id":"C08LP146","day":232,"mm":-2.1},{"id":"C08LP146","day":270,"mm":-3.6},{"id":"C08LP146","day":310,"mm":-5.3},{"id":"C08LP146","day":351,"mm":-7.0},{"id":"C08LP146","day":392,"mm":-8.1},{"id":"C08LP146","day":430,"mm":-8.8},{"id":"C08LP146","day":470,"mm":-8.9},{"id":"C08LP146","day":510,"mm":-8.7},{"id":"C08LP146","day":550,"mm":-9.4},{"id":"C08LP146","day":590,"mm":-10.8},{"id":"C08LP146","day":630,"mm":-12.1},{"id":"C08LP146","day":670,"mm":-13.1},{"id":"C08LP146","day":710,"mm":-14.4},{"id":"C08LP146","day":750,"mm":-15.6},{"id":"C08LP146","day":790,"mm":-16.6},{"id":"C08LP146","day":830,"mm":-17.6},{"id":"C08LP146","day":870,"mm":-18.4},{"id":"C08LP146","day":910,"mm":-18.9},{"id":"C08LP146","day":950,"mm":-19.3},{"id":"C08LP146","day":988,"mm":-19.4},
{"id":"C08LP147","day":155,"mm":2.9},{"id":"C08LP147","day":174,"mm":2.7},{"id":"C08LP147","day":200,"mm":0.4},{"id":"C08LP147","day":232,"mm":-1.4},{"id":"C08LP147","day":270,"mm":-2.9},{"id":"C08LP147","day":310,"mm":-4.4},{"id":"C08LP147","day":351,"mm":-6.1},{"id":"C08LP147","day":392,"mm":-7.4},{"id":"C08LP147","day":430,"mm":-8.0},{"id":"C08LP147","day":470,"mm":-7.9},{"id":"C08LP147","day":510,"mm":-7.4},{"id":"C08LP147","day":550,"mm":-7.9},{"id":"C08LP147","day":590,"mm":-9.4},{"id":"C08LP147","day":630,"mm":-10.6},{"id":"C08LP147","day":670,"mm":-11.6},{"id":"C08LP147","day":710,"mm":-12.8},{"id":"C08LP147","day":750,"mm":-14.0},{"id":"C08LP147","day":790,"mm":-15.1},{"id":"C08LP147","day":830,"mm":-16.1},{"id":"C08LP147","day":870,"mm":-17.0},{"id":"C08LP147","day":910,"mm":-17.6},{"id":"C08LP147","day":950,"mm":-17.9},{"id":"C08LP147","day":988,"mm":-18.1},
{"id":"C08LP148","day":155,"mm":2.9},{"id":"C08LP148","day":174,"mm":3.2},{"id":"C08LP148","day":200,"mm":1.9},{"id":"C08LP148","day":232,"mm":1.2},{"id":"C08LP148","day":270,"mm":0.2},{"id":"C08LP148","day":310,"mm":-1.4},{"id":"C08LP148","day":351,"mm":-3.1},{"id":"C08LP148","day":392,"mm":-4.4},{"id":"C08LP148","day":430,"mm":-4.7},{"id":"C08LP148","day":470,"mm":-4.1},{"id":"C08LP148","day":510,"mm":-3.4},{"id":"C08LP148","day":550,"mm":-3.8},{"id":"C08LP148","day":590,"mm":-5.6},{"id":"C08LP148","day":630,"mm":-6.9},{"id":"C08LP148","day":670,"mm":-7.6},{"id":"C08LP148","day":710,"mm":-8.7},{"id":"C08LP148","day":750,"mm":-9.9},{"id":"C08LP148","day":790,"mm":-11.4},{"id":"C08LP148","day":830,"mm":-12.8},{"id":"C08LP148","day":870,"mm":-13.8},{"id":"C08LP148","day":910,"mm":-14.4},{"id":"C08LP148","day":950,"mm":-14.8},{"id":"C08LP148","day":988,"mm":-15.1},
{"id":"C08LP149","day":155,"mm":3.4},{"id":"C08LP149","day":174,"mm":3.2},{"id":"C08LP149","day":200,"mm":1.2},{"id":"C08LP149","day":232,"mm":-0.2},{"id":"C08LP149","day":270,"mm":-1.5},{"id":"C08LP149","day":310,"mm":-2.9},{"id":"C08LP149","day":351,"mm":-4.6},{"id":"C08LP149","day":392,"mm":-5.9},{"id":"C08LP149","day":430,"mm":-6.5},{"id":"C08LP149","day":470,"mm":-6.2},{"id":"C08LP149","day":510,"mm":-5.6},{"id":"C08LP149","day":550,"mm":-6.0},{"id":"C08LP149","day":590,"mm":-7.4},{"id":"C08LP149","day":630,"mm":-8.6},{"id":"C08LP149","day":670,"mm":-9.6},{"id":"C08LP149","day":710,"mm":-10.6},{"id":"C08LP149","day":750,"mm":-11.8},{"id":"C08LP149","day":790,"mm":-13.0},{"id":"C08LP149","day":830,"mm":-14.2},{"id":"C08LP149","day":870,"mm":-15.2},{"id":"C08LP149","day":910,"mm":-15.9},{"id":"C08LP149","day":950,"mm":-16.2},{"id":"C08LP149","day":988,"mm":-16.4},
{"id":"C08LP029","day":155,"mm":2.6},{"id":"C08LP029","day":174,"mm":2.8},{"id":"C08LP029","day":200,"mm":1.4},{"id":"C08LP029","day":232,"mm":0.7},{"id":"C08LP029","day":270,"mm":-0.3},{"id":"C08LP029","day":310,"mm":-1.9},{"id":"C08LP029","day":351,"mm":-3.6},{"id":"C08LP029","day":392,"mm":-4.9},{"id":"C08LP029","day":430,"mm":-5.2},{"id":"C08LP029","day":470,"mm":-4.6},{"id":"C08LP029","day":510,"mm":-3.9},{"id":"C08LP029","day":550,"mm":-4.4},{"id":"C08LP029","day":590,"mm":-6.1},{"id":"C08LP029","day":630,"mm":-7.5},{"id":"C08LP029","day":670,"mm":-8.3},{"id":"C08LP029","day":710,"mm":-9.5},{"id":"C08LP029","day":750,"mm":-10.9},{"id":"C08LP029","day":790,"mm":-12.4},{"id":"C08LP029","day":830,"mm":-13.9},{"id":"C08LP029","day":870,"mm":-14.9},{"id":"C08LP029","day":910,"mm":-15.4},{"id":"C08LP029","day":950,"mm":-15.8},{"id":"C08LP029","day":988,"mm":-16.0},
{"id":"C08LP150","day":155,"mm":2.4},{"id":"C08LP150","day":174,"mm":2.5},{"id":"C08LP150","day":200,"mm":1.0},{"id":"C08LP150","day":232,"mm":0.0},{"id":"C08LP150","day":270,"mm":-1.0},{"id":"C08LP150","day":310,"mm":-2.4},{"id":"C08LP150","day":351,"mm":-4.1},{"id":"C08LP150","day":392,"mm":-5.4},{"id":"C08LP150","day":430,"mm":-5.7},{"id":"C08LP150","day":470,"mm":-5.1},{"id":"C08LP150","day":510,"mm":-4.4},{"id":"C08LP150","day":550,"mm":-4.9},{"id":"C08LP150","day":590,"mm":-6.9},{"id":"C08LP150","day":630,"mm":-8.6},{"id":"C08LP150","day":670,"mm":-9.9},{"id":"C08LP150","day":710,"mm":-11.4},{"id":"C08LP150","day":750,"mm":-12.9},{"id":"C08LP150","day":790,"mm":-14.4},{"id":"C08LP150","day":830,"mm":-15.8},{"id":"C08LP150","day":870,"mm":-16.8},{"id":"C08LP150","day":910,"mm":-17.3},{"id":"C08LP150","day":950,"mm":-17.6},{"id":"C08LP150","day":988,"mm":-17.9},
{"id":"C08LP030","day":155,"mm":2.4},{"id":"C08LP030","day":174,"mm":2.9},{"id":"C08LP030","day":200,"mm":2.7},{"id":"C08LP030","day":232,"mm":2.8},{"id":"C08LP030","day":270,"mm":2.0},{"id":"C08LP030","day":310,"mm":0.4},{"id":"C08LP030","day":351,"mm":-1.6},{"id":"C08LP030","day":392,"mm":-2.8},{"id":"C08LP030","day":430,"mm":-3.5},{"id":"C08LP030","day":470,"mm":-2.6},{"id":"C08LP030","day":510,"mm":-0.8},{"id":"C08LP030","day":550,"mm":-1.3},{"id":"C08LP030","day":590,"mm":-3.6},{"id":"C08LP030","day":630,"mm":-5.9},{"id":"C08LP030","day":670,"mm":-7.9},{"id":"C08LP030","day":710,"mm":-9.9},{"id":"C08LP030","day":750,"mm":-12.2},{"id":"C08LP030","day":790,"mm":-14.1},{"id":"C08LP030","day":830,"mm":-16.4},{"id":"C08LP030","day":870,"mm":-18.1},{"id":"C08LP030","day":910,"mm":-19.0},{"id":"C08LP030","day":950,"mm":-19.5},{"id":"C08LP030","day":988,"mm":-19.5}
  ]
},
"vconcat": [
  {
    "width": 1126, "height": 300,
    "encoding": {
      "x": {"field": "start", "type": "quantitative", "scale": {"domain": [0, 1460], "nice": false, "zero": false},
        "axis": {"values": [0, 182.5, 365, 547.5, 730, 912.5, 1095, 1277.5, 1460], "labelExpr": "['22/09/11','22/03/12','21/09/12','22/03/13','21/09/13','22/03/14','21/09/14','22/03/15','21/09/15'][round(datum.value / 182.5)]", "grid": false, "title": null, "tickSize": 7, "labelPadding": 11, "labelFlush": false, "labelOverlap": false}}
    },
    "layer": [
      {"data": {"name": "gs7Top"}, "mark": {"type": "rule", "color": "#7096CD", "strokeWidth": 3}},
      {"data": {"name": "tasks"}, "transform": [{"filter": "datum.task == 'GS7 DRILL' || datum.task == 'WTH EXCAVATION'"}],
       "mark": {"type": "rule", "color": "black", "strokeWidth": 7, "strokeCap": "round"},
       "encoding": {"x2": {"field": "end"},
         "y": {"field": "task", "type": "nominal", "scale": {"type": "band", "domain": ["GS7 DRILL", "WTH EXCAVATION", "PTEP", "PTEE", "EBRT", "PTE", "MILESTONES"], "paddingInner": 0, "paddingOuter": 0},
           "axis": {"title": null, "grid": true, "tickBand": "extent", "tickSize": 5, "labelAlign": "left", "labelPadding": {"condition": {"test": "datum.value == 'WTH EXCAVATION'", "value": -13}, "value": -30}, "labelFontSize": 17, "labelLimit": 300, "labelExpr": "datum.label == 'MILESTONES' ? '' : datum.label"}}}},
      {"data": {"name": "tasks"}, "transform": [{"filter": "datum.task != 'GS7 DRILL' && datum.task != 'WTH EXCAVATION'"}],
       "mark": {"type": "rule", "color": "black", "strokeWidth": 7, "strokeCap": "butt"},
       "encoding": {"x2": {"field": "end"},
         "y": {"field": "task", "type": "nominal", "scale": {"type": "band", "domain": ["GS7 DRILL", "WTH EXCAVATION", "PTEP", "PTEE", "EBRT", "PTE", "MILESTONES"], "paddingInner": 0, "paddingOuter": 0},
           "axis": {"title": null, "grid": true, "tickBand": "extent", "tickSize": 5, "labelAlign": "left", "labelPadding": {"condition": {"test": "datum.value == 'WTH EXCAVATION'", "value": -13}, "value": -30}, "labelFontSize": 17, "labelLimit": 300, "labelExpr": "datum.label == 'MILESTONES' ? '' : datum.label"}}}},
      {"data": {"name": "tasks"}, "transform": [{"filter": "isValid(datum.note)"}],
       "mark": {"type": "text", "align": "center", "baseline": "middle", "dy": -5, "fontSize": 17, "color": "#262626"},
       "encoding": {
         "y": {"field": "task", "type": "nominal", "bandPosition": 0, "scale": {"type": "band", "domain": ["GS7 DRILL", "WTH EXCAVATION", "PTEP", "PTEE", "EBRT", "PTE", "MILESTONES"], "paddingInner": 0, "paddingOuter": 0},
           "axis": {"title": null, "grid": true, "tickBand": "extent", "tickSize": 5, "labelAlign": "left", "labelPadding": {"condition": {"test": "datum.value == 'WTH EXCAVATION'", "value": -13}, "value": -30}, "labelFontSize": 17, "labelLimit": 300, "labelExpr": "datum.label == 'MILESTONES' ? '' : datum.label"}},
         "text": {"field": "note"}}},
      {"data": {"name": "milestones"},
       "mark": {"type": "point", "shape": "square", "filled": true, "color": "black", "size": 30, "opacity": 1},
       "encoding": {
         "y": {"field": "task", "type": "nominal", "bandPosition": 1, "scale": {"type": "band", "domain": ["GS7 DRILL", "WTH EXCAVATION", "PTEP", "PTEE", "EBRT", "PTE", "MILESTONES"], "paddingInner": 0, "paddingOuter": 0},
           "axis": {"title": null, "grid": true, "tickBand": "extent", "tickSize": 5, "labelAlign": "left", "labelPadding": {"condition": {"test": "datum.value == 'WTH EXCAVATION'", "value": -13}, "value": -30}, "labelFontSize": 17, "labelLimit": 300, "labelExpr": "datum.label == 'MILESTONES' ? '' : datum.label"}}}},
      {"data": {"name": "milestones"},
       "mark": {"type": "text", "align": "center", "baseline": "middle", "dy": -3, "fontSize": 19, "color": "#262626"},
       "encoding": {
         "y": {"field": "task", "type": "nominal", "bandPosition": 0.5, "scale": {"type": "band", "domain": ["GS7 DRILL", "WTH EXCAVATION", "PTEP", "PTEE", "EBRT", "PTE", "MILESTONES"], "paddingInner": 0, "paddingOuter": 0},
           "axis": {"title": null, "grid": true, "tickBand": "extent", "tickSize": 5, "labelAlign": "left", "labelPadding": {"condition": {"test": "datum.value == 'WTH EXCAVATION'", "value": -13}, "value": -30}, "labelFontSize": 17, "labelLimit": 300, "labelExpr": "datum.label == 'MILESTONES' ? '' : datum.label"}},
         "text": {"field": "name"}}}
    ]
  },
  {
    "width": 1120, "height": 457,
    "title": {"text": "Dean St_E_PLP", "fontSize": 34, "fontWeight": "bold", "color": "black", "anchor": "middle", "baseline": "middle", "offset": -62, "dx": -16},
    "encoding": {
      "x": {"field": "day", "type": "quantitative", "scale": {"domain": [0, 1460], "nice": false, "zero": false},
        "axis": {"values": [0, 182.5, 365, 547.5, 730, 912.5, 1095, 1277.5, 1460], "labelExpr": "['22/09/11','22/03/12','21/09/12','22/03/13','21/09/13','22/03/14','21/09/14','22/03/15','21/09/15'][round(datum.value / 182.5)]", "grid": false, "title": null, "tickSize": 7, "labelPadding": 11, "labelFlush": false, "labelOverlap": false}}
    },
    "layer": [
      {"data": {"name": "gs7"}, "mark": {"type": "rule", "color": "#B8CBE4", "strokeWidth": 3}},
      {"data": {"name": "mid"}, "mark": {"type": "line", "strokeWidth": 3, "opacity": 1, "strokeJoin": "round"},
       "encoding": {
         "y": {"field": "mm", "type": "quantitative", "scale": {"domain": [-50, 10], "nice": false, "zero": false},
           "axis": {"values": [-50, -40, -30, -20, -10, 0, 10], "labelExpr": "'' + datum.value", "grid": true, "tickSize": 5, "labelPadding": 9, "title": "Settlement [-ve], mm", "titleFontSize": 18, "titleFontWeight": "bold", "titleColor": "black", "titlePadding": 10}},
         "stroke": {"field": "id", "type": "nominal", "legend": null, "scale": {"domain": ["C08LP116","C08LP117","C08LP118","C08LP119","C08LP120","C08LP121","C08LP122","C08LP123","C08LP124","C08LP125","C08LP126","C08LP127","C08LP128","C08LP129","C08LP130","C08LP131","GS7 PERIODS"], "range": ["#3E67A0","#A33634","#77933C","#65508F","#31859C","#DD7A2A","#4A7EBB","#BE4B48","#98B954","#7D60A0","#46AAC5","#F69240","#86A2D4","#DA8E8C","#AFCB7E","#A08CC0","#B8CBE4"]}}}},
      {"data": {"name": "mid"}, "mark": {"type": "point", "filled": true, "size": 120, "strokeWidth": 2, "opacity": 1},
       "encoding": {
         "y": {"field": "mm", "type": "quantitative", "scale": {"domain": [-50, 10], "nice": false, "zero": false},
           "axis": {"values": [-50, -40, -30, -20, -10, 0, 10], "labelExpr": "'' + datum.value", "grid": true, "tickSize": 5, "labelPadding": 9, "title": "Settlement [-ve], mm", "titleFontSize": 18, "titleFontWeight": "bold", "titleColor": "black", "titlePadding": 10}},
         "fill": {"field": "id", "type": "nominal", "legend": null, "scale": {"domain": ["C08LP116","C08LP117","C08LP118","C08LP119","C08LP120","C08LP121","C08LP122","C08LP123","C08LP124","C08LP125","C08LP126","C08LP127","C08LP128","C08LP129","C08LP130","C08LP131","GS7 PERIODS"], "range": ["#3E67A0","#A33634","#77933C","#65508F","#31859C","#DD7A2A","#4A7EBB","#BE4B48","#98B954","#7D60A0","#46AAC5","#F69240","#86A2D4","#DA8E8C","#AFCB7E","#A08CC0","#B8CBE4"]}},
         "stroke": {"field": "id", "type": "nominal", "legend": null, "scale": {"domain": ["C08LP116","C08LP117","C08LP118","C08LP119","C08LP120","C08LP121","C08LP122","C08LP123","C08LP124","C08LP125","C08LP126","C08LP127","C08LP128","C08LP129","C08LP130","C08LP131","GS7 PERIODS"], "range": ["#3E67A0","#A33634","#77933C","#65508F","#31859C","#DD7A2A","#4A7EBB","#BE4B48","#98B954","#7D60A0","#46AAC5","#F69240","#86A2D4","#DA8E8C","#AFCB7E","#A08CC0","#B8CBE4"]}},
         "shape": {"field": "id", "type": "nominal", "legend": null, "scale": {"domain": ["C08LP116","C08LP117","C08LP118","C08LP119","C08LP120","C08LP121","C08LP122","C08LP123","C08LP124","C08LP125","C08LP126","C08LP127","C08LP128","C08LP129","C08LP130","C08LP131","GS7 PERIODS"], "range": ["diamond","square","triangle-up","M-1,-1L1,1M-1,1L1,-1","M-1,-1L1,1M-1,1L1,-1M0,-1.3L0,1.3","circle","M-1.2,0L1.2,0M0,-1.2L0,1.2","M0,0","M0,0","diamond","square","triangle-up","M-1,-1L1,1M-1,1L1,-1","M-1,-1L1,1M-1,1L1,-1M0,-1.3L0,1.3","circle","M-1.2,0L1.2,0M0,-1.2L0,1.2","M0,0"]}}}}
    ]
  },
  {
    "width": 1120, "height": 60,
    "data": {"name": "legendMid"},
    "transform": [
      {"window": [{"op": "row_number", "as": "n"}]},
      {"calculate": "(datum.n - 1) % 6", "as": "col"},
      {"calculate": "floor((datum.n - 1) / 6)", "as": "row"}
    ],
    "encoding": {
      "x": {"field": "col", "type": "quantitative", "scale": {"domain": [-0.5736, 6.4704], "nice": false, "zero": false}, "axis": null},
      "y": {"field": "row", "type": "quantitative", "scale": {"domain": [0.0533, 1.6533], "reverse": true, "nice": false, "zero": false}, "axis": null}
    },
    "layer": [
      {"mark": {"type": "tick", "orient": "horizontal", "size": 42, "thickness": 3, "opacity": 1},
       "encoding": {"color": {"field": "id", "type": "nominal", "legend": null, "scale": {"domain": ["C08LP116","C08LP117","C08LP118","C08LP119","C08LP120","C08LP121","C08LP122","C08LP123","C08LP124","C08LP125","C08LP126","C08LP127","C08LP128","C08LP129","C08LP130","C08LP131","GS7 PERIODS"], "range": ["#3E67A0","#A33634","#77933C","#65508F","#31859C","#DD7A2A","#4A7EBB","#BE4B48","#98B954","#7D60A0","#46AAC5","#F69240","#86A2D4","#DA8E8C","#AFCB7E","#A08CC0","#B8CBE4"]}}}},
      {"mark": {"type": "point", "filled": true, "size": 100, "strokeWidth": 2, "opacity": 1},
       "encoding": {
         "fill": {"field": "id", "type": "nominal", "legend": null, "scale": {"domain": ["C08LP116","C08LP117","C08LP118","C08LP119","C08LP120","C08LP121","C08LP122","C08LP123","C08LP124","C08LP125","C08LP126","C08LP127","C08LP128","C08LP129","C08LP130","C08LP131","GS7 PERIODS"], "range": ["#3E67A0","#A33634","#77933C","#65508F","#31859C","#DD7A2A","#4A7EBB","#BE4B48","#98B954","#7D60A0","#46AAC5","#F69240","#86A2D4","#DA8E8C","#AFCB7E","#A08CC0","#B8CBE4"]}},
         "stroke": {"field": "id", "type": "nominal", "legend": null, "scale": {"domain": ["C08LP116","C08LP117","C08LP118","C08LP119","C08LP120","C08LP121","C08LP122","C08LP123","C08LP124","C08LP125","C08LP126","C08LP127","C08LP128","C08LP129","C08LP130","C08LP131","GS7 PERIODS"], "range": ["#3E67A0","#A33634","#77933C","#65508F","#31859C","#DD7A2A","#4A7EBB","#BE4B48","#98B954","#7D60A0","#46AAC5","#F69240","#86A2D4","#DA8E8C","#AFCB7E","#A08CC0","#B8CBE4"]}},
         "shape": {"field": "id", "type": "nominal", "legend": null, "scale": {"domain": ["C08LP116","C08LP117","C08LP118","C08LP119","C08LP120","C08LP121","C08LP122","C08LP123","C08LP124","C08LP125","C08LP126","C08LP127","C08LP128","C08LP129","C08LP130","C08LP131","GS7 PERIODS"], "range": ["diamond","square","triangle-up","M-1,-1L1,1M-1,1L1,-1","M-1,-1L1,1M-1,1L1,-1M0,-1.3L0,1.3","circle","M-1.2,0L1.2,0M0,-1.2L0,1.2","M0,0","M0,0","diamond","square","triangle-up","M-1,-1L1,1M-1,1L1,-1","M-1,-1L1,1M-1,1L1,-1M0,-1.3L0,1.3","circle","M-1.2,0L1.2,0M0,-1.2L0,1.2","M0,0"]}}}},
      {"mark": {"type": "text", "align": "left", "baseline": "middle", "dx": 24, "fontSize": 18, "color": "#262626"},
       "encoding": {"text": {"field": "id"}}}
    ]
  },
  {
    "width": 1120, "height": 457,
    "title": {"text": "Dean St_E_PLP", "fontSize": 34, "fontWeight": "bold", "color": "black", "anchor": "middle", "baseline": "middle", "offset": -62, "dx": -16},
    "encoding": {
      "x": {"field": "day", "type": "quantitative", "scale": {"domain": [0, 1460], "nice": false, "zero": false},
        "axis": {"values": [0, 182.5, 365, 547.5, 730, 912.5, 1095, 1277.5, 1460], "labelExpr": "['22/09/11','22/03/12','21/09/12','22/03/13','21/09/13','22/03/14','21/09/14','22/03/15','21/09/15'][round(datum.value / 182.5)]", "grid": false, "title": null, "tickSize": 7, "labelPadding": 11, "labelFlush": false, "labelOverlap": false}}
    },
    "layer": [
      {"data": {"name": "gs7"}, "mark": {"type": "rule", "color": "#8DB4E2", "strokeWidth": 3}},
      {"data": {"name": "bot"}, "mark": {"type": "line", "strokeWidth": 3, "opacity": 1, "strokeJoin": "round"},
       "encoding": {
         "y": {"field": "mm", "type": "quantitative", "scale": {"domain": [-50, 10], "nice": false, "zero": false},
           "axis": {"values": [-50, -40, -30, -20, -10, 0, 10], "labelExpr": "'' + datum.value", "grid": true, "tickSize": 5, "labelPadding": 9, "title": "Settlement [-ve], mm", "titleFontSize": 18, "titleFontWeight": "bold", "titleColor": "black", "titlePadding": 10}},
         "stroke": {"field": "id", "type": "nominal", "legend": null, "scale": {"domain": ["C08LP134","C08LP135","C08LP136","C08LP138","C08LP139","C08LP140","C08LP141","C08LP142","C08LP143","C08LP144","C08LP145","C08LP146","C08LP147","C08LP148","C08LP149","C08LP029","C08LP150","C08LP030","GS7 PERIODS"], "range": ["#3E67A0","#A33634","#77933C","#31859C","#DD7A2A","#4A7EBB","#BE4B48","#98B954","#7D60A0","#46AAC5","#F69240","#86A2D4","#DA8E8C","#AFCB7E","#A08CC0","#72C0D6","#F9AE78","#B4C4DF","#8DB4E2"]}}}},
      {"data": {"name": "bot"}, "mark": {"type": "point", "filled": true, "size": 120, "strokeWidth": 2, "opacity": 1},
       "encoding": {
         "y": {"field": "mm", "type": "quantitative", "scale": {"domain": [-50, 10], "nice": false, "zero": false},
           "axis": {"values": [-50, -40, -30, -20, -10, 0, 10], "labelExpr": "'' + datum.value", "grid": true, "tickSize": 5, "labelPadding": 9, "title": "Settlement [-ve], mm", "titleFontSize": 18, "titleFontWeight": "bold", "titleColor": "black", "titlePadding": 10}},
         "fill": {"field": "id", "type": "nominal", "legend": null, "scale": {"domain": ["C08LP134","C08LP135","C08LP136","C08LP138","C08LP139","C08LP140","C08LP141","C08LP142","C08LP143","C08LP144","C08LP145","C08LP146","C08LP147","C08LP148","C08LP149","C08LP029","C08LP150","C08LP030","GS7 PERIODS"], "range": ["#3E67A0","#A33634","#77933C","#31859C","#DD7A2A","#4A7EBB","#BE4B48","#98B954","#7D60A0","#46AAC5","#F69240","#86A2D4","#DA8E8C","#AFCB7E","#A08CC0","#72C0D6","#F9AE78","#B4C4DF","#8DB4E2"]}},
         "stroke": {"field": "id", "type": "nominal", "legend": null, "scale": {"domain": ["C08LP134","C08LP135","C08LP136","C08LP138","C08LP139","C08LP140","C08LP141","C08LP142","C08LP143","C08LP144","C08LP145","C08LP146","C08LP147","C08LP148","C08LP149","C08LP029","C08LP150","C08LP030","GS7 PERIODS"], "range": ["#3E67A0","#A33634","#77933C","#31859C","#DD7A2A","#4A7EBB","#BE4B48","#98B954","#7D60A0","#46AAC5","#F69240","#86A2D4","#DA8E8C","#AFCB7E","#A08CC0","#72C0D6","#F9AE78","#B4C4DF","#8DB4E2"]}},
         "shape": {"field": "id", "type": "nominal", "legend": null, "scale": {"domain": ["C08LP134","C08LP135","C08LP136","C08LP138","C08LP139","C08LP140","C08LP141","C08LP142","C08LP143","C08LP144","C08LP145","C08LP146","C08LP147","C08LP148","C08LP149","C08LP029","C08LP150","C08LP030","GS7 PERIODS"], "range": ["diamond","square","triangle-up","M-1,-1L1,1M-1,1L1,-1M0,-1.3L0,1.3","circle","M-1.2,0L1.2,0M0,-1.2L0,1.2","M0,0","M0,0","diamond","square","triangle-up","M-1,-1L1,1M-1,1L1,-1","M-1,-1L1,1M-1,1L1,-1M0,-1.3L0,1.3","circle","M-1.2,0L1.2,0M0,-1.2L0,1.2","M0,0","M0,0","diamond","M0,0"]}}}}
    ]
  },
  {
    "width": 1120, "height": 60,
    "data": {"name": "legendBot"},
    "transform": [
      {"window": [{"op": "row_number", "as": "n"}]},
      {"calculate": "(datum.n - 1) % 7", "as": "col"},
      {"calculate": "floor((datum.n - 1) / 7)", "as": "row"}
    ],
    "encoding": {
      "x": {"field": "col", "type": "quantitative", "scale": {"domain": [-0.0719, 6.990], "nice": false, "zero": false}, "axis": null},
      "y": {"field": "row", "type": "quantitative", "scale": {"domain": [0.0533, 1.6533], "reverse": true, "nice": false, "zero": false}, "axis": null}
    },
    "layer": [
      {"mark": {"type": "tick", "orient": "horizontal", "size": 42, "thickness": 3, "opacity": 1},
       "encoding": {"color": {"field": "id", "type": "nominal", "legend": null, "scale": {"domain": ["C08LP134","C08LP135","C08LP136","C08LP138","C08LP139","C08LP140","C08LP141","C08LP142","C08LP143","C08LP144","C08LP145","C08LP146","C08LP147","C08LP148","C08LP149","C08LP029","C08LP150","C08LP030","GS7 PERIODS"], "range": ["#3E67A0","#A33634","#77933C","#31859C","#DD7A2A","#4A7EBB","#BE4B48","#98B954","#7D60A0","#46AAC5","#F69240","#86A2D4","#DA8E8C","#AFCB7E","#A08CC0","#72C0D6","#F9AE78","#B4C4DF","#8DB4E2"]}}}},
      {"mark": {"type": "point", "filled": true, "size": 100, "strokeWidth": 2, "opacity": 1},
       "encoding": {
         "fill": {"field": "id", "type": "nominal", "legend": null, "scale": {"domain": ["C08LP134","C08LP135","C08LP136","C08LP138","C08LP139","C08LP140","C08LP141","C08LP142","C08LP143","C08LP144","C08LP145","C08LP146","C08LP147","C08LP148","C08LP149","C08LP029","C08LP150","C08LP030","GS7 PERIODS"], "range": ["#3E67A0","#A33634","#77933C","#31859C","#DD7A2A","#4A7EBB","#BE4B48","#98B954","#7D60A0","#46AAC5","#F69240","#86A2D4","#DA8E8C","#AFCB7E","#A08CC0","#72C0D6","#F9AE78","#B4C4DF","#8DB4E2"]}},
         "stroke": {"field": "id", "type": "nominal", "legend": null, "scale": {"domain": ["C08LP134","C08LP135","C08LP136","C08LP138","C08LP139","C08LP140","C08LP141","C08LP142","C08LP143","C08LP144","C08LP145","C08LP146","C08LP147","C08LP148","C08LP149","C08LP029","C08LP150","C08LP030","GS7 PERIODS"], "range": ["#3E67A0","#A33634","#77933C","#31859C","#DD7A2A","#4A7EBB","#BE4B48","#98B954","#7D60A0","#46AAC5","#F69240","#86A2D4","#DA8E8C","#AFCB7E","#A08CC0","#72C0D6","#F9AE78","#B4C4DF","#8DB4E2"]}},
         "shape": {"field": "id", "type": "nominal", "legend": null, "scale": {"domain": ["C08LP134","C08LP135","C08LP136","C08LP138","C08LP139","C08LP140","C08LP141","C08LP142","C08LP143","C08LP144","C08LP145","C08LP146","C08LP147","C08LP148","C08LP149","C08LP029","C08LP150","C08LP030","GS7 PERIODS"], "range": ["diamond","square","triangle-up","M-1,-1L1,1M-1,1L1,-1M0,-1.3L0,1.3","circle","M-1.2,0L1.2,0M0,-1.2L0,1.2","M0,0","M0,0","diamond","square","triangle-up","M-1,-1L1,1M-1,1L1,-1","M-1,-1L1,1M-1,1L1,-1M0,-1.3L0,1.3","circle","M-1.2,0L1.2,0M0,-1.2L0,1.2","M0,0","M0,0","diamond","M0,0"]}}}},
      {"mark": {"type": "text", "align": "left", "baseline": "middle", "dx": 25, "fontSize": 18, "color": "#262626"},
       "encoding": {"text": {"field": "id"}}}
    ]
  }
]
}
